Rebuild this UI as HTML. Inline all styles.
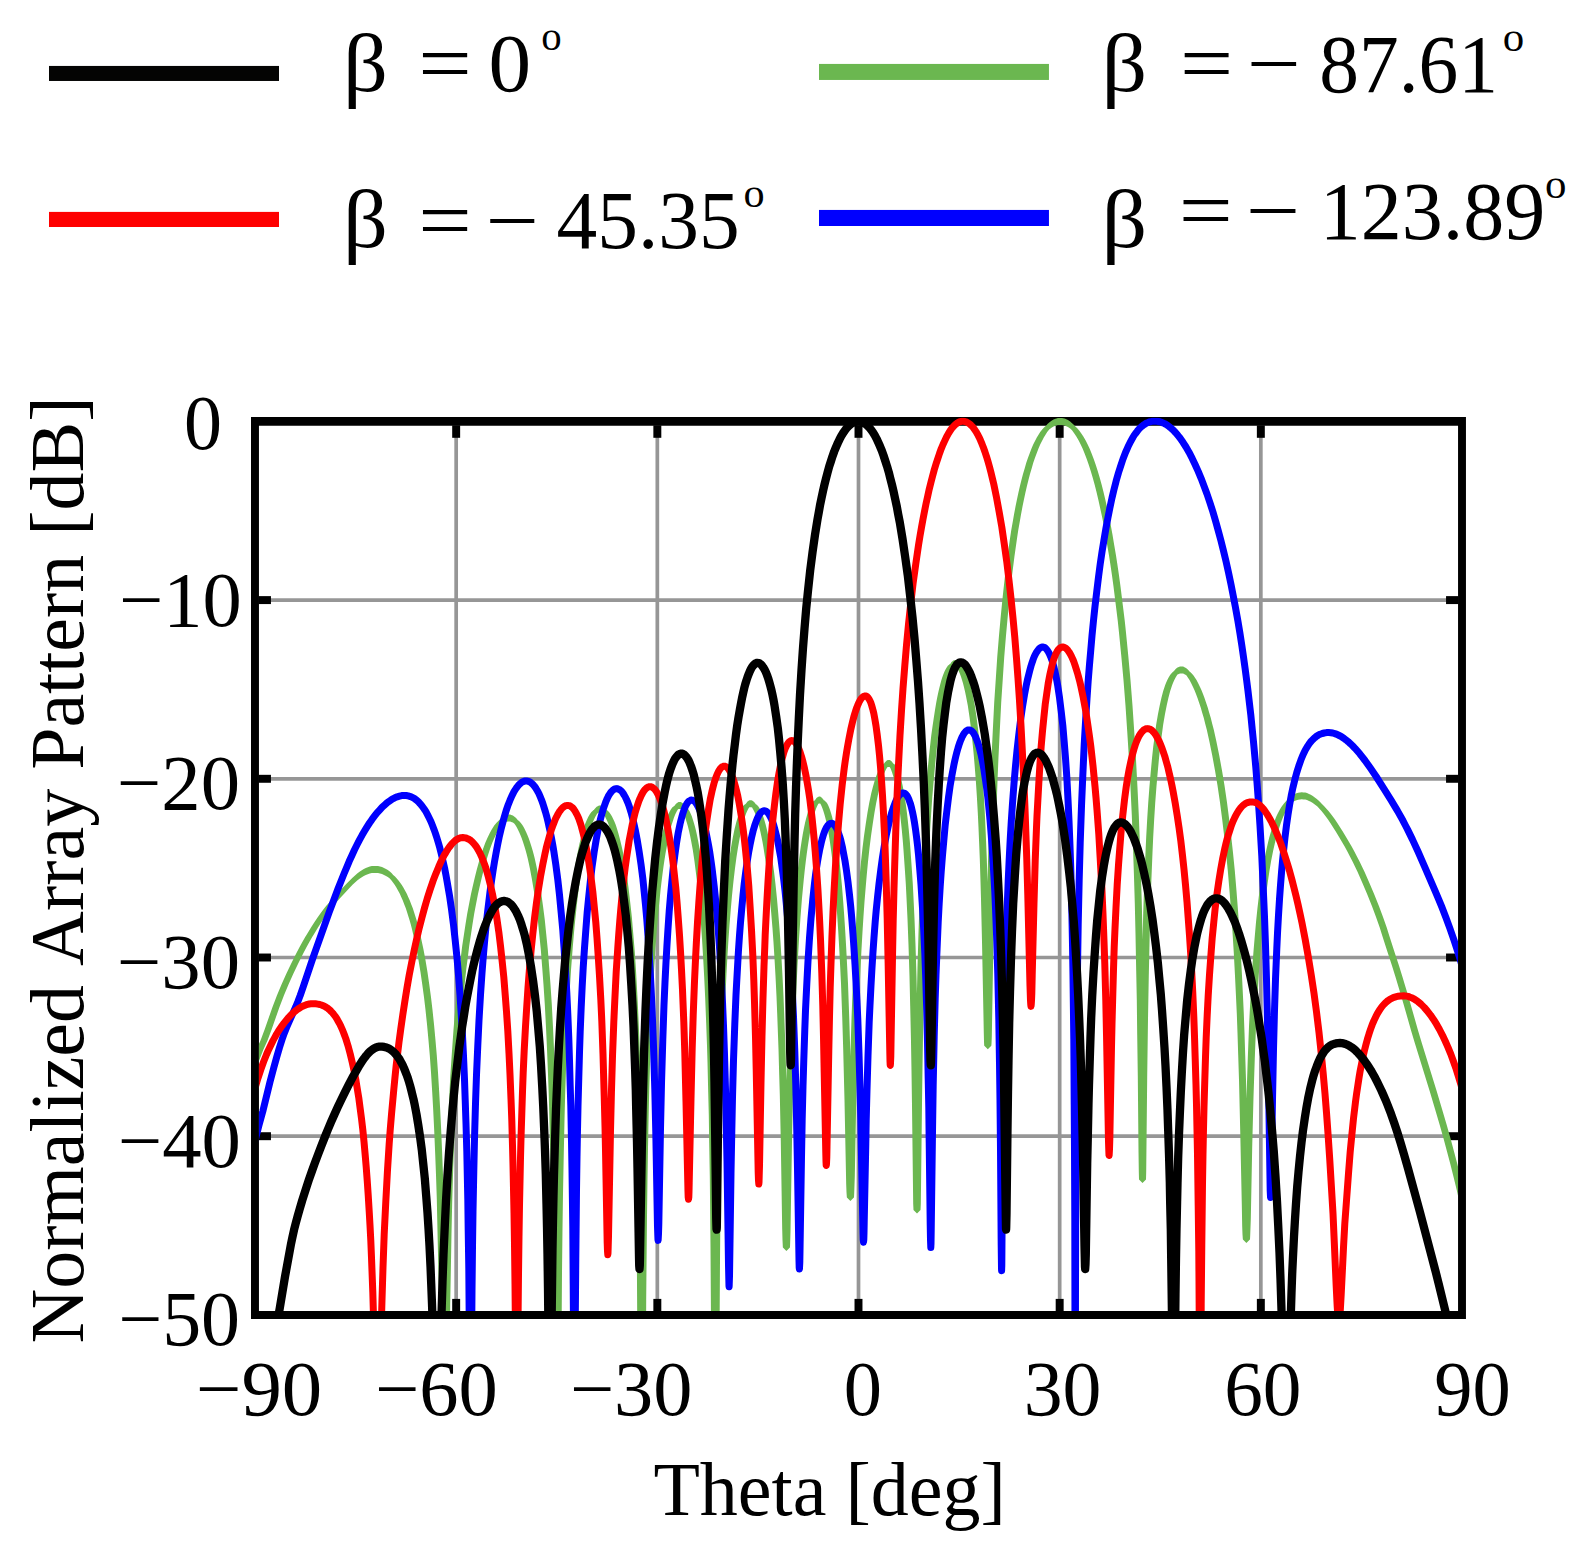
<!DOCTYPE html>
<html lang="en"><head><meta charset="utf-8"><title>Normalized Array Pattern</title>
<style>html,body{margin:0;padding:0;background:#fff}svg{display:block}text{font-family:"Liberation Serif", "DejaVu Serif", serif;fill:#000;font-kerning:none;white-space:pre}</style>
</head><body>
<svg width="1593" height="1557" viewBox="0 0 1593 1557">
<rect width="1593" height="1557" fill="#fff"/>
<defs><clipPath id="cp"><rect x="258.9" y="417.6" width="1199.1" height="893.3"/></clipPath></defs>
<g id="legend-lines">
<rect x="49.00" y="65.94" width="230.00" height="15.03" fill="#040403"/>
<rect x="49.00" y="211.90" width="230.00" height="15.10" fill="#fe0000"/>
<rect x="819.00" y="63.93" width="229.95" height="16.02" fill="#6bb750"/>
<rect x="819.00" y="209.94" width="229.95" height="16.06" fill="#0000fe"/>
</g>
<g id="legend-text">
<text x="343.11" y="90.60" font-size="82.00px" textLength="44.95" lengthAdjust="spacingAndGlyphs">β</text>
<text x="418.27" y="91.30" font-size="82.00px" textLength="53.57" lengthAdjust="spacingAndGlyphs">=</text>
<text x="488.46" y="90.50" font-size="82.00px" textLength="42.59" lengthAdjust="spacingAndGlyphs">0</text>
<text x="541.25" y="49.90" font-size="39.00px" textLength="20.41" lengthAdjust="spacingAndGlyphs">o</text>
<text x="343.11" y="247.40" font-size="82.00px" textLength="44.95" lengthAdjust="spacingAndGlyphs">β</text>
<text x="418.27" y="248.00" font-size="82.00px" textLength="53.57" lengthAdjust="spacingAndGlyphs">=</text>
<text x="485.58" y="247.50" font-size="82.00px" textLength="53.45" lengthAdjust="spacingAndGlyphs">−</text>
<text x="556.51" y="248.10" font-size="82.00px" textLength="183.27" lengthAdjust="spacingAndGlyphs">45.35</text>
<text x="743.59" y="206.70" font-size="39.00px" textLength="21.12" lengthAdjust="spacingAndGlyphs">o</text>
<text x="1101.51" y="91.00" font-size="82.00px" textLength="45.71" lengthAdjust="spacingAndGlyphs">β</text>
<text x="1180.10" y="91.10" font-size="82.00px" textLength="53.21" lengthAdjust="spacingAndGlyphs">=</text>
<text x="1246.83" y="91.10" font-size="82.00px" textLength="54.05" lengthAdjust="spacingAndGlyphs">−</text>
<text x="1319.27" y="92.20" font-size="82.00px" textLength="178.80" lengthAdjust="spacingAndGlyphs">87.61</text>
<text x="1502.66" y="51.00" font-size="39.00px" textLength="21.47" lengthAdjust="spacingAndGlyphs">o</text>
<text x="1101.51" y="247.30" font-size="82.00px" textLength="45.71" lengthAdjust="spacingAndGlyphs">β</text>
<text x="1178.73" y="238.20" font-size="82.00px" textLength="54.05" lengthAdjust="spacingAndGlyphs">=</text>
<text x="1245.89" y="238.30" font-size="82.00px" textLength="54.42" lengthAdjust="spacingAndGlyphs">−</text>
<text x="1319.79" y="238.80" font-size="82.00px" textLength="225.57" lengthAdjust="spacingAndGlyphs">123.89</text>
<text x="1545.06" y="198.20" font-size="39.00px" textLength="21.47" lengthAdjust="spacingAndGlyphs">o</text>
</g>
<g id="grid" stroke="#969696" stroke-width="3.7" fill="none">
<line x1="456.17" y1="425.80" x2="456.17" y2="1310.90"/>
<line x1="657.33" y1="425.80" x2="657.33" y2="1310.90"/>
<line x1="858.50" y1="425.80" x2="858.50" y2="1310.90"/>
<line x1="1059.67" y1="425.80" x2="1059.67" y2="1310.90"/>
<line x1="1260.83" y1="425.80" x2="1260.83" y2="1310.90"/>
<line x1="258.95" y1="600.10" x2="1458.05" y2="600.10"/>
<line x1="258.95" y1="778.80" x2="1458.05" y2="778.80"/>
<line x1="258.95" y1="957.50" x2="1458.05" y2="957.50"/>
<line x1="258.95" y1="1136.20" x2="1458.05" y2="1136.20"/>
</g>
<g id="frame" fill="#000" stroke="none">
<path fill-rule="evenodd" d="M251.00 417.05H1465.95V1318.90H251.00ZM258.95 425.80H1458.05V1310.90H258.95Z"/>
<rect x="452.19" y="425.30" width="7.95" height="12.50"/>
<rect x="452.19" y="1298.90" width="7.95" height="12.50"/>
<rect x="653.36" y="425.30" width="7.95" height="12.50"/>
<rect x="653.36" y="1298.90" width="7.95" height="12.50"/>
<rect x="854.52" y="425.30" width="7.95" height="12.50"/>
<rect x="854.52" y="1298.90" width="7.95" height="12.50"/>
<rect x="1055.69" y="425.30" width="7.95" height="12.50"/>
<rect x="1055.69" y="1298.90" width="7.95" height="12.50"/>
<rect x="1256.86" y="425.30" width="7.95" height="12.50"/>
<rect x="1256.86" y="1298.90" width="7.95" height="12.50"/>
<rect x="258.45" y="596.12" width="12.50" height="7.95"/>
<rect x="1446.05" y="596.12" width="12.50" height="7.95"/>
<rect x="258.45" y="774.82" width="12.50" height="7.95"/>
<rect x="1446.05" y="774.82" width="12.50" height="7.95"/>
<rect x="258.45" y="953.53" width="12.50" height="7.95"/>
<rect x="1446.05" y="953.53" width="12.50" height="7.95"/>
<rect x="258.45" y="1132.23" width="12.50" height="7.95"/>
<rect x="1446.05" y="1132.23" width="12.50" height="7.95"/>
</g>
<g id="curves" clip-path="url(#cp)" fill="none" stroke-linejoin="round" stroke-linecap="butt">
<path id="c-green" fill="#6bb750" stroke="none" d="M250.0 1072.5L253.5 1062.7L257.2 1052.8L259.8 1046.6L264.0 1036.9L265.8 1032.4L268.2 1025.6L276.0 1003.4L278.2 997.4L280.5 991.7L285.0 981.0L289.8 970.4L294.8 959.9L299.8 950.0L302.8 944.3L305.8 938.8L308.8 933.5L311.5 928.9L314.5 924.0L317.8 919.0L320.8 914.5L323.8 910.2L326.2 906.8L328.0 904.6L330.0 902.1L332.2 899.5L336.0 895.3L345.5 885.0L350.0 880.3L352.5 877.8L355.0 875.5L357.2 873.5L359.5 871.8L361.8 870.2L363.8 869.0L365.8 868.0L367.8 867.2L369.8 866.6L371.8 866.1L373.8 865.9L375.8 865.9L378.0 866.1L380.0 866.5L382.0 867.1L384.0 867.9L386.0 868.9L387.8 870.0L389.8 871.5L391.5 873.1L393.2 874.9L395.0 876.9L396.8 879.2L398.2 881.4L400.0 884.2L401.5 886.9L403.2 890.3L404.8 893.5L406.2 896.9L407.8 900.7L409.2 904.8L410.5 908.5L413.0 916.6L414.2 921.0L415.5 925.8L417.8 935.3L420.0 945.9L422.0 956.7L424.0 968.7L425.8 980.6L427.5 993.8L429.0 1006.6L430.5 1020.8L432.0 1036.9L433.2 1052.1L434.5 1069.1L435.8 1088.6L436.8 1106.5L437.8 1126.9L438.8 1150.7L439.5 1171.4L440.2 1195.6L440.8 1214.2L441.8 1260.1L442.2 1289.5L442.8 1326.0L443.2 1373.8L443.8 1442.6L444.0 1492.3L444.5 1649.4L444.6 1665.6L445.2 1480.5L445.8 1396.8L446.2 1341.8L446.8 1301.0L447.2 1268.5L448.0 1229.7L448.8 1198.5L449.8 1164.7L451.0 1130.5L452.2 1102.4L453.8 1074.2L455.2 1050.2L457.0 1026.2L459.0 1002.6L460.2 989.5L461.5 977.5L462.8 966.3L464.2 954.0L465.8 942.6L467.2 932.1L469.0 920.7L470.8 910.3L472.5 900.7L474.5 890.6L476.2 882.5L478.2 873.9L480.2 866.0L482.2 858.8L484.2 852.3L486.5 845.6L488.8 839.6L491.0 834.2L493.2 829.5L495.5 825.5L496.5 823.9L497.8 822.1L499.0 820.5L500.0 819.3L501.2 818.0L502.2 817.1L503.5 816.2L504.5 815.6L505.8 815.0L506.8 814.7L508.0 814.5L509.0 814.4L510.2 814.6L511.2 814.9L512.2 815.3L513.2 815.8L514.5 816.7L515.5 817.6L516.5 818.6L517.5 819.8L518.5 821.1L519.5 822.6L520.5 824.3L521.5 826.2L522.8 828.8L524.0 831.7L525.2 834.9L526.5 838.4L527.8 842.3L529.0 846.6L530.2 851.3L531.2 855.3L532.5 860.8L533.5 865.6L535.5 876.2L537.5 888.3L539.5 902.4L541.2 916.5L542.8 930.3L544.2 946.0L545.8 964.0L547.0 981.2L548.2 1000.9L549.5 1023.9L550.5 1045.4L551.5 1070.8L552.2 1093.1L553.0 1119.4L553.5 1139.9L554.2 1176.9L554.8 1207.8L555.5 1270.2L556.0 1332.4L556.2 1376.2L556.5 1436.7L557.0 1665.6L557.2 1532.7L557.5 1436.4L557.8 1375.6L558.2 1297.3L558.5 1269.1L559.0 1224.4L559.5 1189.7L560.2 1148.8L561.0 1116.4L561.8 1089.5L562.8 1059.7L563.8 1034.8L564.8 1013.3L566.0 990.2L567.5 966.5L569.2 943.2L570.2 931.4L571.2 920.6L573.2 901.5L574.2 893.0L575.5 883.3L576.5 876.1L577.8 867.8L579.0 860.2L580.2 853.3L581.5 846.9L583.0 840.1L584.2 834.9L585.8 829.4L587.2 824.5L588.8 820.2L590.2 816.5L591.8 813.4L593.2 810.8L594.8 808.8L595.5 807.9L596.2 807.2L597.0 806.6L597.8 806.2L598.5 805.8L599.2 805.6L600.0 805.5L601.0 805.6L602.0 805.8L602.8 806.2L603.5 806.7L604.2 807.2L605.0 808.0L605.8 808.8L607.2 810.9L608.5 813.0L609.8 815.4L611.0 818.3L612.2 821.5L613.5 825.2L614.8 829.3L616.0 833.9L617.0 837.9L618.2 843.4L619.2 848.1L621.2 858.9L623.2 871.4L625.0 884.1L626.8 898.7L628.2 913.0L629.8 929.5L631.2 948.6L632.5 967.0L633.8 988.4L634.8 1008.4L635.8 1031.6L636.5 1052.0L637.2 1075.6L638.0 1103.7L638.5 1125.9L639.0 1151.9L639.5 1183.4L640.2 1247.5L640.8 1312.4L641.0 1359.0L641.2 1425.4L641.7 1665.6L642.0 1483.8L642.2 1395.1L642.8 1296.3L643.0 1263.4L643.5 1213.0L644.0 1175.0L644.5 1144.4L645.0 1118.9L645.8 1087.2L646.5 1060.8L647.2 1038.4L648.2 1012.9L649.2 991.2L650.5 967.9L652.0 944.3L653.5 924.2L655.2 904.2L657.0 887.1L658.0 878.4L659.0 870.4L660.0 863.1L661.0 856.3L662.0 850.1L663.2 842.9L664.2 837.7L665.5 831.8L666.8 826.5L668.0 821.8L669.2 817.7L670.5 814.0L671.8 810.9L673.2 807.8L674.5 805.7L675.8 804.1L677.0 802.9L677.8 802.5L678.5 802.1L679.2 802.0L680.0 801.9L680.8 802.1L681.2 802.3L682.0 802.7L682.8 803.3L684.0 804.6L685.2 806.4L686.2 808.3L687.2 810.4L688.2 812.8L689.5 816.4L690.5 819.7L691.5 823.3L692.5 827.3L693.5 831.8L694.5 836.7L696.2 846.5L698.0 858.0L699.8 871.4L701.2 884.7L702.8 900.1L704.2 918.0L705.5 935.2L706.8 955.2L707.8 973.7L708.8 995.0L709.8 1020.1L710.5 1042.2L711.0 1059.0L711.8 1088.4L712.2 1111.8L712.8 1139.4L713.2 1173.1L714.0 1243.5L714.5 1318.2L714.8 1375.4L715.0 1465.2L715.3 1665.6L715.5 1521.1L715.8 1405.6L716.0 1338.6L716.5 1255.7L717.0 1201.9L717.8 1145.4L718.2 1116.7L718.8 1092.5L719.8 1053.3L720.5 1029.5L721.2 1008.9L722.0 990.9L723.0 970.0L724.0 951.8L725.0 935.8L726.0 921.6L727.2 905.8L728.5 891.9L730.0 877.4L731.5 864.7L733.0 853.6L734.5 843.9L736.2 834.1L738.0 825.8L739.8 818.9L740.8 815.4L741.8 812.4L742.8 809.7L743.8 807.4L744.8 805.4L745.8 803.7L746.8 802.4L747.2 801.8L748.0 801.2L749.0 800.5L749.5 800.3L750.2 800.2L750.8 800.2L751.5 800.3L752.5 800.7L753.5 801.5L754.8 802.8L755.8 804.3L756.8 806.0L758.0 808.6L759.0 811.1L760.0 813.9L761.0 817.1L762.0 820.6L763.0 824.5L764.0 828.8L765.0 833.5L766.0 838.6L767.0 844.2L768.8 855.2L770.5 868.1L772.0 880.8L773.5 895.4L774.8 909.2L776.0 924.9L777.0 939.0L778.0 954.9L779.0 972.7L780.0 992.9L780.8 1010.3L782.0 1045.6L782.8 1071.3L783.2 1091.0L784.2 1138.2L785.8 1225.5L786.0 1236.5L786.2 1242.9L786.4 1244.0L786.5 1243.5L786.8 1238.1L787.0 1227.9L788.8 1126.0L789.5 1090.4L790.2 1060.6L791.0 1035.2L792.0 1006.5L793.0 982.8L794.0 962.3L795.5 935.8L797.0 913.5L798.5 894.5L800.2 875.7L801.2 866.3L802.2 857.8L803.2 850.0L804.2 842.9L805.2 836.4L806.2 830.6L807.2 825.3L808.5 819.4L809.2 816.2L810.2 812.4L811.0 809.8L812.0 806.8L812.8 804.8L813.8 802.5L814.8 800.5L815.8 799.0L816.5 798.1L817.5 797.2L818.0 796.9L818.5 796.7L819.0 796.6L819.5 796.6L820.0 796.6L820.5 796.8L821.0 797.0L821.5 797.4L822.5 798.4L823.2 799.3L824.2 801.0L825.0 802.5L826.0 805.0L826.8 807.0L827.8 810.2L828.5 813.0L829.5 817.0L830.2 820.4L831.2 825.4L832.0 829.6L833.5 838.9L835.0 849.9L836.2 860.4L837.5 872.3L838.5 883.0L839.8 898.2L840.8 911.9L841.8 927.2L842.8 944.4L843.8 963.7L844.5 979.9L845.8 1013.1L846.8 1045.7L848.0 1096.7L849.8 1180.9L850.0 1188.8L850.2 1193.2L850.4 1194.0L850.5 1193.7L850.8 1190.0L851.2 1172.8L852.8 1099.3L854.0 1048.1L855.0 1015.2L856.2 981.7L857.0 965.3L858.0 945.7L859.0 928.2L860.0 912.5L861.0 898.3L862.2 882.5L863.2 871.1L864.5 858.3L866.0 844.6L867.5 832.4L869.2 820.0L871.0 809.1L872.8 799.5L874.8 790.1L876.5 783.0L877.5 779.4L878.5 776.1L879.5 773.2L880.5 770.5L881.5 768.1L882.8 765.6L883.8 763.9L884.8 762.5L885.8 761.4L886.8 760.6L887.8 760.1L888.2 760.0L888.8 760.0L889.2 760.0L889.8 760.1L890.5 760.5L891.5 761.3L892.5 762.5L893.5 764.1L894.2 765.6L895.5 768.7L896.8 772.5L898.0 777.2L899.0 781.6L900.2 788.0L901.2 794.0L902.2 800.7L903.2 808.3L904.2 816.9L905.2 826.6L906.2 837.6L907.0 846.8L908.5 868.2L909.2 880.6L910.0 894.5L911.0 915.6L912.0 941.4L913.0 973.1L913.8 1002.4L914.5 1038.5L915.0 1067.7L915.5 1102.5L916.5 1185.1L916.8 1200.6L917.0 1206.5L917.2 1200.5L917.5 1184.8L918.5 1099.7L919.0 1063.6L919.5 1032.9L920.2 994.8L921.0 963.5L922.0 929.1L923.0 900.6L924.0 876.6L925.5 846.0L927.0 820.3L928.8 794.9L930.5 773.4L931.5 762.5L932.5 752.4L933.5 743.2L934.8 732.6L936.0 723.0L937.2 714.3L938.5 706.4L939.8 699.2L940.8 694.0L941.8 689.3L942.8 684.9L943.8 680.9L944.8 677.3L945.8 674.1L946.8 671.2L948.0 668.1L949.0 666.0L950.0 664.2L951.0 662.7L951.5 662.1L952.2 661.4L953.2 660.6L954.2 660.2L955.2 660.1L955.8 660.2L956.5 660.4L957.0 660.7L957.8 661.2L958.8 662.1L960.0 663.7L961.0 665.3L962.2 667.7L963.2 670.0L964.5 673.3L965.5 676.4L966.5 679.8L967.5 683.7L968.5 687.9L969.5 692.7L971.2 702.1L973.0 713.5L974.5 724.9L975.8 736.0L977.0 748.7L978.0 760.2L979.2 776.8L980.2 792.0L981.2 809.4L982.0 824.3L983.2 855.4L984.0 878.2L984.5 895.8L985.5 937.9L987.2 1029.7L987.5 1038.2L987.8 1042.1L987.8 1042.2L988.0 1040.3L988.2 1033.2L988.5 1021.8L990.2 917.0L990.8 891.7L991.5 858.6L992.2 830.2L993.2 798.0L994.0 777.4L995.0 753.4L996.2 727.0L997.8 699.3L999.2 675.2L1000.8 653.9L1002.5 631.9L1004.2 612.2L1006.2 592.2L1008.5 572.2L1011.0 552.5L1013.5 535.1L1014.8 527.1L1016.2 518.1L1017.5 511.1L1019.0 503.1L1020.5 495.7L1022.0 488.8L1023.5 482.3L1025.0 476.2L1026.5 470.5L1028.2 464.4L1029.8 459.5L1031.5 454.2L1033.2 449.4L1035.0 445.0L1036.8 441.0L1038.5 437.4L1040.2 434.1L1042.0 431.2L1043.8 428.6L1045.8 426.0L1047.5 424.0L1049.5 422.2L1051.5 420.7L1053.5 419.5L1055.5 418.7L1056.5 418.4L1057.8 418.1L1058.8 418.0L1060.0 417.9L1062.0 418.0L1063.2 418.2L1064.5 418.6L1065.8 419.0L1066.8 419.4L1068.0 420.1L1069.0 420.7L1070.2 421.6L1071.2 422.4L1073.5 424.6L1075.8 427.1L1078.0 430.2L1080.0 433.3L1082.2 437.2L1084.2 441.2L1086.2 445.6L1088.2 450.4L1090.2 455.7L1092.2 461.4L1094.2 467.7L1096.2 474.4L1098.2 481.7L1100.0 488.5L1102.0 496.9L1103.8 504.7L1105.5 513.1L1107.2 521.9L1109.0 531.3L1110.8 541.4L1112.5 552.1L1114.0 561.8L1115.5 572.1L1117.0 583.0L1119.8 604.7L1121.2 617.7L1122.5 629.2L1124.8 651.6L1127.0 676.8L1129.0 702.2L1130.8 727.4L1132.5 756.1L1134.0 784.5L1135.2 811.8L1136.5 843.5L1137.5 873.6L1138.2 900.1L1139.0 930.7L1139.8 967.3L1140.2 996.4L1140.8 1031.0L1141.2 1072.7L1142.0 1147.5L1142.2 1167.9L1142.5 1176.1L1142.8 1168.0L1143.8 1073.8L1144.5 1015.5L1145.2 971.8L1146.2 927.7L1146.8 909.7L1147.5 886.3L1148.2 866.2L1149.0 848.9L1149.8 833.5L1150.8 815.5L1151.8 799.8L1153.0 782.6L1154.2 767.8L1155.5 754.8L1156.8 743.4L1158.2 731.4L1159.8 720.9L1161.5 710.5L1163.2 701.6L1165.0 694.0L1166.8 687.6L1167.8 684.5L1168.8 681.6L1169.8 679.0L1170.8 676.7L1171.8 674.7L1173.0 672.5L1174.0 671.1L1175.2 669.5L1176.2 668.5L1177.5 667.6L1178.8 666.9L1180.0 666.5L1181.2 666.4L1182.5 666.5L1183.2 666.6L1184.0 666.9L1185.5 667.7L1187.0 668.8L1188.5 670.3L1190.0 672.1L1191.5 674.2L1193.0 676.6L1194.8 679.8L1196.5 683.4L1198.0 686.8L1199.5 690.5L1201.0 694.5L1202.8 699.5L1204.2 704.2L1205.8 709.2L1207.2 714.6L1208.8 720.3L1210.2 726.3L1213.0 738.4L1215.8 751.8L1218.5 766.9L1221.0 782.1L1223.5 799.1L1225.8 816.1L1227.8 832.9L1229.5 849.2L1231.2 867.3L1233.0 887.5L1234.5 906.9L1236.0 928.8L1237.2 949.4L1238.5 972.6L1239.5 993.3L1240.2 1010.2L1241.0 1029.6L1241.8 1051.6L1242.5 1076.5L1243.8 1126.6L1245.2 1200.9L1245.8 1223.1L1246.0 1230.9L1246.2 1235.2L1246.4 1236.0L1246.5 1235.7L1246.8 1232.1L1247.2 1215.4L1248.8 1143.8L1250.0 1093.6L1251.2 1054.4L1252.5 1023.1L1253.5 1003.0L1254.8 980.8L1255.8 965.1L1257.0 947.7L1258.2 932.4L1259.5 918.7L1261.0 904.3L1262.5 891.6L1264.2 878.5L1266.0 867.1L1267.8 857.0L1269.8 847.0L1271.8 838.2L1272.8 834.3L1274.0 829.7L1275.0 826.4L1276.2 822.5L1277.2 819.6L1278.5 816.3L1279.8 813.3L1281.0 810.5L1282.2 808.0L1283.5 805.7L1284.8 803.7L1286.2 801.5L1287.5 799.9L1289.0 798.2L1290.5 796.8L1292.0 795.6L1293.5 794.6L1295.0 793.8L1296.5 793.2L1298.2 792.7L1300.0 792.4L1301.8 792.3L1303.5 792.4L1305.2 792.6L1307.0 793.1L1309.0 793.9L1310.8 794.8L1312.8 796.0L1314.8 797.4L1316.8 799.0L1318.8 800.8L1320.8 802.8L1322.8 804.9L1325.0 807.5L1327.0 810.0L1329.2 813.0L1331.5 816.1L1334.0 819.8L1336.8 824.0L1339.8 828.7L1342.8 833.7L1345.5 838.4L1348.2 843.3L1351.0 848.3L1353.8 853.5L1356.2 858.4L1358.8 863.5L1361.0 868.3L1365.8 878.9L1370.8 890.8L1375.5 902.8L1379.5 913.5L1383.2 924.3L1385.8 932.0L1391.0 948.6L1395.5 962.3L1398.8 972.6L1401.8 982.4L1405.0 993.4L1414.8 1027.4L1418.2 1039.4L1433.2 1088.1L1438.5 1105.6L1443.2 1121.8L1447.2 1135.9L1450.8 1148.8L1454.0 1161.2L1457.0 1173.2L1460.2 1186.8L1463.5 1201.1L1466.8 1216.0L1470.0 1231.5L1470.0 1238.5L1466.8 1223.0L1463.5 1208.1L1460.2 1193.8L1457.0 1180.2L1454.0 1168.2L1450.8 1155.8L1447.2 1142.9L1443.2 1128.8L1438.5 1112.6L1433.2 1095.1L1418.2 1046.4L1414.8 1034.4L1405.0 1000.4L1401.8 989.4L1398.8 979.6L1395.5 969.3L1391.0 955.6L1385.8 939.0L1383.2 931.3L1379.5 920.5L1375.5 909.8L1370.8 897.8L1365.8 885.9L1361.0 875.3L1358.8 870.5L1356.2 865.4L1353.8 860.5L1351.0 855.3L1348.2 850.3L1345.5 845.4L1342.8 840.7L1339.8 835.7L1336.8 831.0L1334.0 826.8L1331.5 823.1L1329.2 820.0L1327.0 817.0L1325.0 814.5L1322.8 811.9L1320.8 809.8L1318.8 807.8L1316.8 806.0L1314.8 804.4L1312.8 803.0L1310.8 801.8L1309.0 800.9L1307.0 800.1L1305.2 799.6L1303.5 799.4L1301.8 799.3L1300.0 799.4L1298.2 799.7L1296.5 800.2L1295.0 800.8L1293.5 801.6L1292.0 802.6L1290.5 803.8L1289.0 805.2L1287.5 806.9L1286.2 808.5L1284.8 810.7L1283.5 812.7L1282.2 815.0L1281.0 817.5L1279.8 820.3L1278.5 823.3L1277.2 826.6L1276.2 829.5L1275.0 833.4L1274.0 836.7L1272.8 841.3L1271.8 845.2L1269.8 854.0L1267.8 864.0L1266.0 874.1L1264.2 885.5L1262.5 898.6L1261.0 911.3L1259.5 925.7L1258.2 939.4L1257.0 954.7L1255.8 972.1L1254.8 987.8L1253.5 1010.0L1252.5 1030.1L1251.2 1061.4L1250.0 1100.6L1248.8 1150.8L1247.2 1222.4L1246.8 1239.1L1246.5 1242.7L1246.4 1243.0L1246.2 1242.2L1246.0 1237.9L1245.8 1230.1L1245.2 1207.9L1243.8 1133.6L1242.5 1083.5L1241.8 1058.6L1241.0 1036.6L1240.2 1017.2L1239.5 1000.3L1238.5 979.6L1237.2 956.4L1236.0 935.8L1234.5 913.9L1233.0 894.5L1231.2 874.3L1229.5 856.2L1227.8 839.9L1225.8 823.1L1223.5 806.1L1221.0 789.1L1218.5 773.9L1215.8 758.8L1213.0 745.4L1210.2 733.3L1208.8 727.3L1207.2 721.6L1205.8 716.2L1204.2 711.2L1202.8 706.5L1201.0 701.5L1199.5 697.5L1198.0 693.8L1196.5 690.4L1194.8 686.8L1193.0 683.6L1191.5 681.2L1190.0 679.1L1188.5 677.3L1187.0 675.8L1185.5 674.7L1184.0 673.9L1183.2 673.6L1182.5 673.5L1181.2 673.4L1180.0 673.5L1178.8 673.9L1177.5 674.6L1176.2 675.5L1175.2 676.5L1174.0 678.1L1173.0 679.5L1171.8 681.7L1170.8 683.7L1169.8 686.0L1168.8 688.6L1167.8 691.5L1166.8 694.6L1165.0 701.0L1163.2 708.6L1161.5 717.5L1159.8 727.9L1158.2 738.4L1156.8 750.4L1155.5 761.8L1154.2 774.8L1153.0 789.6L1151.8 806.8L1150.8 822.5L1149.8 840.5L1149.0 855.9L1148.2 873.2L1147.5 893.3L1146.8 916.7L1146.2 934.7L1145.2 978.8L1144.5 1022.5L1143.8 1080.8L1142.8 1175.0L1142.5 1183.1L1142.2 1174.9L1142.0 1154.5L1141.2 1079.7L1140.8 1038.0L1140.2 1003.4L1139.8 974.3L1139.0 937.7L1138.2 907.1L1137.5 880.6L1136.5 850.5L1135.2 818.8L1134.0 791.5L1132.5 763.1L1130.8 734.4L1129.0 709.2L1127.0 683.8L1124.8 658.6L1122.5 636.2L1121.2 624.7L1119.8 611.7L1117.0 590.0L1115.5 579.1L1114.0 568.8L1112.5 559.1L1110.8 548.4L1109.0 538.3L1107.2 528.9L1105.5 520.1L1103.8 511.7L1102.0 503.9L1100.0 495.5L1098.2 488.7L1096.2 481.4L1094.2 474.7L1092.2 468.4L1090.2 462.7L1088.2 457.4L1086.2 452.6L1084.2 448.2L1082.2 444.2L1080.0 440.3L1078.0 437.2L1075.8 434.1L1073.5 431.6L1071.2 429.4L1070.2 428.6L1069.0 427.7L1068.0 427.1L1066.8 426.4L1065.8 426.0L1064.5 425.6L1063.2 425.2L1062.0 425.0L1060.0 424.9L1058.8 425.0L1057.8 425.1L1056.5 425.4L1055.5 425.7L1053.5 426.5L1051.5 427.7L1049.5 429.2L1047.5 431.0L1045.8 433.0L1043.8 435.6L1042.0 438.2L1040.2 441.1L1038.5 444.4L1036.8 448.0L1035.0 452.0L1033.2 456.4L1031.5 461.2L1029.8 466.5L1028.2 471.4L1026.5 477.5L1025.0 483.2L1023.5 489.3L1022.0 495.8L1020.5 502.7L1019.0 510.1L1017.5 518.1L1016.2 525.1L1014.8 534.1L1013.5 542.1L1011.0 559.5L1008.5 579.2L1006.2 599.2L1004.2 619.2L1002.5 638.9L1000.8 660.9L999.2 682.2L997.8 706.3L996.2 734.0L995.0 760.4L994.0 784.4L993.2 805.0L992.2 837.2L991.5 865.6L990.8 898.7L990.2 924.0L988.5 1028.8L988.2 1040.2L988.0 1047.3L987.8 1049.2L987.8 1049.1L987.5 1045.2L987.2 1036.7L985.5 944.9L984.5 902.8L984.0 885.2L983.2 862.4L982.0 831.3L981.2 816.4L980.2 799.0L979.2 783.8L978.0 767.2L977.0 755.7L975.8 743.0L974.5 731.9L973.0 720.5L971.2 709.1L969.5 699.7L968.5 694.9L967.5 690.7L966.5 686.8L965.5 683.4L964.5 680.3L963.2 677.0L962.2 674.7L961.0 672.3L960.0 670.7L958.8 669.1L957.8 668.2L957.0 667.7L956.5 667.4L955.8 667.2L955.2 667.1L954.2 667.2L953.2 667.6L952.2 668.4L951.5 669.1L951.0 669.7L950.0 671.2L949.0 673.0L948.0 675.1L946.8 678.2L945.8 681.1L944.8 684.3L943.8 687.9L942.8 691.9L941.8 696.3L940.8 701.0L939.8 706.2L938.5 713.4L937.2 721.3L936.0 730.0L934.8 739.6L933.5 750.2L932.5 759.4L931.5 769.5L930.5 780.4L928.8 801.9L927.0 827.3L925.5 853.0L924.0 883.6L923.0 907.6L922.0 936.1L921.0 970.5L920.2 1001.8L919.5 1039.9L919.0 1070.6L918.5 1106.7L917.5 1191.8L917.2 1207.5L917.0 1213.5L916.8 1207.6L916.5 1192.1L915.5 1109.5L915.0 1074.7L914.5 1045.5L913.8 1009.4L913.0 980.1L912.0 948.4L911.0 922.6L910.0 901.5L909.2 887.6L908.5 875.2L907.0 853.8L906.2 844.6L905.2 833.6L904.2 823.9L903.2 815.3L902.2 807.7L901.2 801.0L900.2 795.0L899.0 788.6L898.0 784.2L896.8 779.5L895.5 775.7L894.2 772.6L893.5 771.1L892.5 769.5L891.5 768.3L890.5 767.5L889.8 767.1L889.2 767.0L888.8 767.0L888.2 767.0L887.8 767.1L886.8 767.6L885.8 768.4L884.8 769.5L883.8 770.9L882.8 772.6L881.5 775.1L880.5 777.5L879.5 780.2L878.5 783.1L877.5 786.4L876.5 790.0L874.8 797.1L872.8 806.5L871.0 816.1L869.2 827.0L867.5 839.4L866.0 851.6L864.5 865.3L863.2 878.1L862.2 889.5L861.0 905.3L860.0 919.5L859.0 935.2L858.0 952.7L857.0 972.3L856.2 988.7L855.0 1022.2L854.0 1055.1L852.8 1106.3L851.2 1179.8L850.8 1197.0L850.5 1200.7L850.4 1201.0L850.2 1200.2L850.0 1195.8L849.8 1187.9L848.0 1103.7L846.8 1052.7L845.8 1020.1L844.5 986.9L843.8 970.7L842.8 951.4L841.8 934.2L840.8 918.9L839.8 905.2L838.5 890.0L837.5 879.3L836.2 867.4L835.0 856.9L833.5 845.9L832.0 836.6L831.2 832.4L830.2 827.4L829.5 824.0L828.5 820.0L827.8 817.2L826.8 814.0L826.0 812.0L825.0 809.5L824.2 808.0L823.2 806.3L822.5 805.4L821.5 804.4L821.0 804.0L820.5 803.8L820.0 803.6L819.5 803.6L819.0 803.6L818.5 803.7L818.0 803.9L817.5 804.2L816.5 805.1L815.8 806.0L814.8 807.5L813.8 809.5L812.8 811.8L812.0 813.8L811.0 816.8L810.2 819.4L809.2 823.2L808.5 826.4L807.2 832.3L806.2 837.6L805.2 843.4L804.2 849.9L803.2 857.0L802.2 864.8L801.2 873.3L800.2 882.7L798.5 901.5L797.0 920.5L795.5 942.8L794.0 969.3L793.0 989.8L792.0 1013.5L791.0 1042.2L790.2 1067.6L789.5 1097.4L788.8 1133.0L787.0 1234.9L786.8 1245.1L786.5 1250.5L786.4 1251.0L786.2 1249.9L786.0 1243.5L785.8 1232.5L784.2 1145.2L783.2 1098.0L782.8 1078.3L782.0 1052.6L780.8 1017.3L780.0 999.9L779.0 979.7L778.0 961.9L777.0 946.0L776.0 931.9L774.8 916.2L773.5 902.4L772.0 887.8L770.5 875.1L768.8 862.2L767.0 851.2L766.0 845.6L765.0 840.5L764.0 835.8L763.0 831.5L762.0 827.6L761.0 824.1L760.0 820.9L759.0 818.1L758.0 815.6L756.8 813.0L755.8 811.3L754.8 809.8L753.5 808.5L752.5 807.7L751.5 807.3L750.8 807.2L750.2 807.2L749.5 807.3L749.0 807.5L748.0 808.2L747.2 808.8L746.8 809.4L745.8 810.7L744.8 812.4L743.8 814.4L742.8 816.7L741.8 819.4L740.8 822.4L739.8 825.9L738.0 832.8L736.2 841.1L734.5 850.9L733.0 860.6L731.5 871.7L730.0 884.4L728.5 898.9L727.2 912.8L726.0 928.6L725.0 942.8L724.0 958.8L723.0 977.0L722.0 997.9L721.2 1015.9L720.5 1036.5L719.8 1060.3L718.8 1099.5L718.2 1123.7L717.8 1152.4L717.0 1208.9L716.5 1262.7L716.0 1345.6L715.8 1412.6L715.5 1528.1L715.3 1672.6L715.0 1472.2L714.8 1382.4L714.5 1325.2L714.0 1250.5L713.2 1180.1L712.8 1146.4L712.2 1118.8L711.8 1095.4L711.0 1066.0L710.5 1049.2L709.8 1027.1L708.8 1002.0L707.8 980.7L706.8 962.2L705.5 942.2L704.2 925.0L702.8 907.1L701.2 891.7L699.8 878.4L698.0 865.0L696.2 853.5L694.5 843.7L693.5 838.8L692.5 834.3L691.5 830.3L690.5 826.7L689.5 823.4L688.2 819.8L687.2 817.4L686.2 815.3L685.2 813.4L684.0 811.6L682.8 810.3L682.0 809.7L681.2 809.3L680.8 809.1L680.0 808.9L679.2 809.0L678.5 809.1L677.8 809.5L677.0 809.9L675.8 811.1L674.5 812.7L673.2 814.8L671.8 817.9L670.5 821.0L669.2 824.7L668.0 828.8L666.8 833.5L665.5 838.8L664.2 844.7L663.2 849.9L662.0 857.1L661.0 863.3L660.0 870.1L659.0 877.4L658.0 885.4L657.0 894.1L655.2 911.2L653.5 931.2L652.0 951.3L650.5 974.9L649.2 998.2L648.2 1019.9L647.2 1045.4L646.5 1067.8L645.8 1094.2L645.0 1125.9L644.5 1151.4L644.0 1182.0L643.5 1220.0L643.0 1270.4L642.8 1303.3L642.2 1402.1L642.0 1490.8L641.7 1672.6L641.2 1432.4L641.0 1366.0L640.8 1319.4L640.2 1254.5L639.5 1190.4L639.0 1158.9L638.5 1132.9L638.0 1110.7L637.2 1082.6L636.5 1059.0L635.8 1038.6L634.8 1015.4L633.8 995.4L632.5 974.0L631.2 955.6L629.8 936.5L628.2 920.0L626.8 905.7L625.0 891.1L623.2 878.4L621.2 865.9L619.2 855.1L618.2 850.4L617.0 844.9L616.0 840.9L614.8 836.3L613.5 832.2L612.2 828.5L611.0 825.3L609.8 822.4L608.5 820.0L607.2 817.9L605.8 815.8L605.0 815.0L604.2 814.2L603.5 813.7L602.8 813.2L602.0 812.8L601.0 812.6L600.0 812.5L599.2 812.6L598.5 812.8L597.8 813.2L597.0 813.6L596.2 814.2L595.5 814.9L594.8 815.8L593.2 817.8L591.8 820.4L590.2 823.5L588.8 827.2L587.2 831.5L585.8 836.4L584.2 841.9L583.0 847.1L581.5 853.9L580.2 860.3L579.0 867.2L577.8 874.8L576.5 883.1L575.5 890.3L574.2 900.0L573.2 908.5L571.2 927.6L570.2 938.4L569.2 950.2L567.5 973.5L566.0 997.2L564.8 1020.3L563.8 1041.8L562.8 1066.7L561.8 1096.5L561.0 1123.4L560.2 1155.8L559.5 1196.7L559.0 1231.4L558.5 1276.1L558.2 1304.3L557.8 1382.6L557.5 1443.4L557.2 1539.7L557.0 1672.6L556.5 1443.7L556.2 1383.2L556.0 1339.4L555.5 1277.2L554.8 1214.8L554.2 1183.9L553.5 1146.9L553.0 1126.4L552.2 1100.1L551.5 1077.8L550.5 1052.4L549.5 1030.9L548.2 1007.9L547.0 988.2L545.8 971.0L544.2 953.0L542.8 937.3L541.2 923.5L539.5 909.4L537.5 895.3L535.5 883.2L533.5 872.6L532.5 867.8L531.2 862.3L530.2 858.3L529.0 853.6L527.8 849.3L526.5 845.4L525.2 841.9L524.0 838.7L522.8 835.8L521.5 833.2L520.5 831.3L519.5 829.6L518.5 828.1L517.5 826.8L516.5 825.6L515.5 824.6L514.5 823.7L513.2 822.8L512.2 822.3L511.2 821.9L510.2 821.6L509.0 821.4L508.0 821.5L506.8 821.7L505.8 822.0L504.5 822.6L503.5 823.2L502.2 824.1L501.2 825.0L500.0 826.3L499.0 827.5L497.8 829.1L496.5 830.9L495.5 832.5L493.2 836.5L491.0 841.2L488.8 846.6L486.5 852.6L484.2 859.3L482.2 865.8L480.2 873.0L478.2 880.9L476.2 889.5L474.5 897.6L472.5 907.7L470.8 917.3L469.0 927.7L467.2 939.1L465.8 949.6L464.2 961.0L462.8 973.3L461.5 984.5L460.2 996.5L459.0 1009.6L457.0 1033.2L455.2 1057.2L453.8 1081.2L452.2 1109.4L451.0 1137.5L449.8 1171.7L448.8 1205.5L448.0 1236.7L447.2 1275.5L446.8 1308.0L446.2 1348.8L445.8 1403.8L445.2 1487.5L444.6 1672.6L444.5 1656.4L444.0 1499.3L443.8 1449.6L443.2 1380.8L442.8 1333.0L442.2 1296.5L441.8 1267.1L440.8 1221.2L440.2 1202.6L439.5 1178.4L438.8 1157.7L437.8 1133.9L436.8 1113.5L435.8 1095.6L434.5 1076.1L433.2 1059.1L432.0 1043.9L430.5 1027.8L429.0 1013.6L427.5 1000.8L425.8 987.6L424.0 975.7L422.0 963.7L420.0 952.9L417.8 942.3L415.5 932.8L414.2 928.0L413.0 923.6L410.5 915.5L409.2 911.8L407.8 907.7L406.2 903.9L404.8 900.5L403.2 897.3L401.5 893.9L400.0 891.2L398.2 888.4L396.8 886.2L395.0 883.9L393.2 881.9L391.5 880.1L389.8 878.5L387.8 877.0L386.0 875.9L384.0 874.9L382.0 874.1L380.0 873.5L378.0 873.1L375.8 872.9L373.8 872.9L371.8 873.1L369.8 873.6L367.8 874.2L365.8 875.0L363.8 876.0L361.8 877.2L359.5 878.8L357.2 880.5L355.0 882.5L352.5 884.8L350.0 887.3L345.5 892.0L336.0 902.3L332.2 906.5L330.0 909.1L328.0 911.6L326.2 913.8L323.8 917.2L320.8 921.5L317.8 926.0L314.5 931.0L311.5 935.9L308.8 940.5L305.8 945.8L302.8 951.3L299.8 957.0L294.8 966.9L289.8 977.4L285.0 988.0L280.5 998.7L278.2 1004.4L276.0 1010.4L268.2 1032.6L265.8 1039.4L264.0 1043.9L259.8 1053.6L257.2 1059.8L253.5 1069.7L250.0 1079.5ZM372.2 869.4L375.8 865.9L379.2 869.4L375.8 872.9ZM441.1 1669.1L444.6 1665.6L448.1 1669.1L444.6 1672.6ZM505.5 817.9L509.0 814.4L512.5 817.9L509.0 821.4ZM553.5 1669.1L557.0 1665.6L560.5 1669.1L557.0 1672.6ZM596.5 809.0L600.0 805.5L603.5 809.0L600.0 812.5ZM638.2 1669.1L641.7 1665.6L645.2 1669.1L641.7 1672.6ZM676.5 805.4L680.0 801.9L683.5 805.4L680.0 808.9ZM711.8 1669.1L715.3 1665.6L718.8 1669.1L715.3 1672.6ZM747.2 803.7L750.8 800.2L754.2 803.7L750.8 807.2ZM782.9 1247.5L786.4 1244.0L789.9 1247.5L786.4 1251.0ZM816.0 800.1L819.5 796.6L823.0 800.1L819.5 803.6ZM846.9 1197.5L850.4 1194.0L853.9 1197.5L850.4 1201.0ZM885.2 763.5L888.8 760.0L892.2 763.5L888.8 767.0ZM913.5 1210.0L917.0 1206.5L920.5 1210.0L917.0 1213.5ZM951.8 663.6L955.2 660.1L958.8 663.6L955.2 667.1ZM984.3 1045.7L987.8 1042.2L991.3 1045.7L987.8 1049.2ZM1056.5 421.4L1060.0 417.9L1063.5 421.4L1060.0 424.9ZM1139.0 1179.6L1142.5 1176.1L1146.0 1179.6L1142.5 1183.1ZM1177.8 669.9L1181.2 666.4L1184.8 669.9L1181.2 673.4ZM1242.9 1239.5L1246.4 1236.0L1249.9 1239.5L1246.4 1243.0ZM1298.2 795.8L1301.8 792.3L1305.2 795.8L1301.8 799.3ZM246.5 1076.0L250.0 1066.2L253.8 1056.3L256.2 1050.1L260.5 1040.4L262.2 1035.9L264.8 1029.1L272.5 1006.9L274.8 1000.9L277.0 995.2L281.5 984.5L286.2 973.9L291.2 963.4L296.2 953.5L299.2 947.8L302.2 942.3L305.2 937.0L308.0 932.4L311.0 927.5L314.2 922.5L317.2 918.0L320.2 913.7L322.8 910.3L324.5 908.1L326.5 905.6L328.8 903.0L332.5 898.8L342.0 888.5L346.5 883.8L349.0 881.3L351.5 879.0L353.8 877.0L356.0 875.3L358.2 873.7L360.2 872.5L362.2 871.5L364.2 870.7L366.2 870.1L368.2 869.6L370.2 869.4L372.2 869.4L379.2 869.4L377.2 869.4L375.2 869.6L373.2 870.1L371.2 870.7L369.2 871.5L367.2 872.5L365.2 873.7L363.0 875.3L360.8 877.0L358.5 879.0L356.0 881.3L353.5 883.8L349.0 888.5L339.5 898.8L335.8 903.0L333.5 905.6L331.5 908.1L329.8 910.3L327.2 913.7L324.2 918.0L321.2 922.5L318.0 927.5L315.0 932.4L312.2 937.0L309.2 942.3L306.2 947.8L303.2 953.5L298.2 963.4L293.2 973.9L288.5 984.5L284.0 995.2L281.8 1000.9L279.5 1006.9L271.8 1029.1L269.2 1035.9L267.5 1040.4L263.2 1050.1L260.8 1056.3L257.0 1066.2L253.5 1076.0ZM379.2 869.4L381.5 869.6L383.5 870.0L385.5 870.6L387.5 871.4L389.5 872.4L391.2 873.5L393.2 875.0L395.0 876.6L396.8 878.4L398.5 880.4L400.2 882.7L401.8 884.9L403.5 887.7L405.0 890.4L406.8 893.8L408.2 897.0L409.8 900.4L411.2 904.2L412.8 908.3L414.0 912.0L416.5 920.1L417.8 924.5L419.0 929.3L421.2 938.8L423.5 949.4L425.5 960.2L427.5 972.2L429.2 984.1L431.0 997.3L432.5 1010.1L434.0 1024.3L435.5 1040.4L436.8 1055.6L438.0 1072.6L439.2 1092.1L440.2 1110.0L441.2 1130.4L442.2 1154.2L443.0 1174.9L443.8 1199.1L444.2 1217.7L445.2 1263.6L445.8 1293.0L446.2 1329.5L446.8 1377.3L447.2 1446.1L447.5 1495.8L448.0 1652.9L448.1 1669.1L441.1 1669.1L441.0 1652.9L440.5 1495.8L440.2 1446.1L439.8 1377.3L439.2 1329.5L438.8 1293.0L438.2 1263.6L437.2 1217.7L436.8 1199.1L436.0 1174.9L435.2 1154.2L434.2 1130.4L433.2 1110.0L432.2 1092.1L431.0 1072.6L429.8 1055.6L428.5 1040.4L427.0 1024.3L425.5 1010.1L424.0 997.3L422.2 984.1L420.5 972.2L418.5 960.2L416.5 949.4L414.2 938.8L412.0 929.3L410.8 924.5L409.5 920.1L407.0 912.0L405.8 908.3L404.2 904.2L402.8 900.4L401.2 897.0L399.8 893.8L398.0 890.4L396.5 887.7L394.8 884.9L393.2 882.7L391.5 880.4L389.8 878.4L388.0 876.6L386.2 875.0L384.2 873.5L382.5 872.4L380.5 871.4L378.5 870.6L376.5 870.0L374.5 869.6L372.2 869.4ZM441.1 1669.1L441.8 1484.0L442.2 1400.3L442.8 1345.3L443.2 1304.5L443.8 1272.0L444.5 1233.2L445.2 1202.0L446.2 1168.2L447.5 1134.0L448.8 1105.9L450.2 1077.7L451.8 1053.7L453.5 1029.7L455.5 1006.1L456.8 993.0L458.0 981.0L459.2 969.8L460.8 957.5L462.2 946.1L463.8 935.6L465.5 924.2L467.2 913.8L469.0 904.2L471.0 894.1L472.8 886.0L474.8 877.4L476.8 869.5L478.8 862.3L480.8 855.8L483.0 849.1L485.2 843.1L487.5 837.7L489.8 833.0L492.0 829.0L493.0 827.4L494.2 825.6L495.5 824.0L496.5 822.8L497.8 821.5L498.8 820.6L500.0 819.7L501.0 819.1L502.2 818.5L503.2 818.2L504.5 818.0L505.5 817.9L512.5 817.9L511.5 818.0L510.2 818.2L509.2 818.5L508.0 819.1L507.0 819.7L505.8 820.6L504.8 821.5L503.5 822.8L502.5 824.0L501.2 825.6L500.0 827.4L499.0 829.0L496.8 833.0L494.5 837.7L492.2 843.1L490.0 849.1L487.8 855.8L485.8 862.3L483.8 869.5L481.8 877.4L479.8 886.0L478.0 894.1L476.0 904.2L474.2 913.8L472.5 924.2L470.8 935.6L469.2 946.1L467.8 957.5L466.2 969.8L465.0 981.0L463.8 993.0L462.5 1006.1L460.5 1029.7L458.8 1053.7L457.2 1077.7L455.8 1105.9L454.5 1134.0L453.2 1168.2L452.2 1202.0L451.5 1233.2L450.8 1272.0L450.2 1304.5L449.8 1345.3L449.2 1400.3L448.8 1484.0L448.1 1669.1ZM512.5 817.9L513.8 818.1L514.8 818.4L515.8 818.8L516.8 819.3L518.0 820.2L519.0 821.1L520.0 822.1L521.0 823.3L522.0 824.6L523.0 826.1L524.0 827.8L525.0 829.7L526.2 832.3L527.5 835.2L528.8 838.4L530.0 841.9L531.2 845.8L532.5 850.1L533.8 854.8L534.8 858.8L536.0 864.3L537.0 869.1L539.0 879.7L541.0 891.8L543.0 905.9L544.8 920.0L546.2 933.8L547.8 949.5L549.2 967.5L550.5 984.7L551.8 1004.4L553.0 1027.4L554.0 1048.9L555.0 1074.3L555.8 1096.6L556.5 1122.9L557.0 1143.4L557.8 1180.4L558.2 1211.3L559.0 1273.7L559.5 1335.9L559.8 1379.7L560.0 1440.2L560.5 1669.1L553.5 1669.1L553.0 1440.2L552.8 1379.7L552.5 1335.9L552.0 1273.7L551.2 1211.3L550.8 1180.4L550.0 1143.4L549.5 1122.9L548.8 1096.6L548.0 1074.3L547.0 1048.9L546.0 1027.4L544.8 1004.4L543.5 984.7L542.2 967.5L540.8 949.5L539.2 933.8L537.8 920.0L536.0 905.9L534.0 891.8L532.0 879.7L530.0 869.1L529.0 864.3L527.8 858.8L526.8 854.8L525.5 850.1L524.2 845.8L523.0 841.9L521.8 838.4L520.5 835.2L519.2 832.3L518.0 829.7L517.0 827.8L516.0 826.1L515.0 824.6L514.0 823.3L513.0 822.1L512.0 821.1L511.0 820.2L509.8 819.3L508.8 818.8L507.8 818.4L506.8 818.1L505.5 817.9ZM553.5 1669.1L553.8 1536.2L554.0 1439.9L554.2 1379.1L554.8 1300.8L555.0 1272.6L555.5 1227.9L556.0 1193.2L556.8 1152.3L557.5 1119.9L558.2 1093.0L559.2 1063.2L560.2 1038.3L561.2 1016.8L562.5 993.7L564.0 970.0L565.8 946.7L566.8 934.9L567.8 924.1L569.8 905.0L570.8 896.5L572.0 886.8L573.0 879.6L574.2 871.3L575.5 863.7L576.8 856.8L578.0 850.4L579.5 843.6L580.8 838.4L582.2 832.9L583.8 828.0L585.2 823.7L586.8 820.0L588.2 816.9L589.8 814.3L591.2 812.3L592.0 811.4L592.8 810.7L593.5 810.1L594.2 809.7L595.0 809.3L595.8 809.1L596.5 809.0L603.5 809.0L602.8 809.1L602.0 809.3L601.2 809.7L600.5 810.1L599.8 810.7L599.0 811.4L598.2 812.3L596.8 814.3L595.2 816.9L593.8 820.0L592.2 823.7L590.8 828.0L589.2 832.9L587.8 838.4L586.5 843.6L585.0 850.4L583.8 856.8L582.5 863.7L581.2 871.3L580.0 879.6L579.0 886.8L577.8 896.5L576.8 905.0L574.8 924.1L573.8 934.9L572.8 946.7L571.0 970.0L569.5 993.7L568.2 1016.8L567.2 1038.3L566.2 1063.2L565.2 1093.0L564.5 1119.9L563.8 1152.3L563.0 1193.2L562.5 1227.9L562.0 1272.6L561.8 1300.8L561.2 1379.1L561.0 1439.9L560.8 1536.2L560.5 1669.1ZM603.5 809.0L604.5 809.1L605.5 809.3L606.2 809.7L607.0 810.2L607.8 810.7L608.5 811.5L609.2 812.3L610.8 814.4L612.0 816.5L613.2 818.9L614.5 821.8L615.8 825.0L617.0 828.7L618.2 832.8L619.5 837.4L620.5 841.4L621.8 846.9L622.8 851.6L624.8 862.4L626.8 874.9L628.5 887.6L630.2 902.2L631.8 916.5L633.2 933.0L634.8 952.1L636.0 970.5L637.2 991.9L638.2 1011.9L639.2 1035.1L640.0 1055.5L640.8 1079.1L641.5 1107.2L642.0 1129.4L642.5 1155.4L643.0 1186.9L643.8 1251.0L644.2 1315.9L644.5 1362.5L644.8 1428.9L645.2 1669.1L638.2 1669.1L637.8 1428.9L637.5 1362.5L637.2 1315.9L636.8 1251.0L636.0 1186.9L635.5 1155.4L635.0 1129.4L634.5 1107.2L633.8 1079.1L633.0 1055.5L632.2 1035.1L631.2 1011.9L630.2 991.9L629.0 970.5L627.8 952.1L626.2 933.0L624.8 916.5L623.2 902.2L621.5 887.6L619.8 874.9L617.8 862.4L615.8 851.6L614.8 846.9L613.5 841.4L612.5 837.4L611.2 832.8L610.0 828.7L608.8 825.0L607.5 821.8L606.2 818.9L605.0 816.5L603.8 814.4L602.2 812.3L601.5 811.5L600.8 810.7L600.0 810.2L599.2 809.7L598.5 809.3L597.5 809.1L596.5 809.0ZM638.2 1669.1L638.5 1487.3L638.8 1398.6L639.2 1299.8L639.5 1266.9L640.0 1216.5L640.5 1178.5L641.0 1147.9L641.5 1122.4L642.2 1090.7L643.0 1064.3L643.8 1041.9L644.8 1016.4L645.8 994.7L647.0 971.4L648.5 947.8L650.0 927.7L651.8 907.7L653.5 890.6L654.5 881.9L655.5 873.9L656.5 866.6L657.5 859.8L658.5 853.6L659.8 846.4L660.8 841.2L662.0 835.3L663.2 830.0L664.5 825.3L665.8 821.2L667.0 817.5L668.2 814.4L669.8 811.3L671.0 809.2L672.2 807.6L673.5 806.4L674.2 806.0L675.0 805.6L675.8 805.5L676.5 805.4L683.5 805.4L682.8 805.5L682.0 805.6L681.2 806.0L680.5 806.4L679.2 807.6L678.0 809.2L676.8 811.3L675.2 814.4L674.0 817.5L672.8 821.2L671.5 825.3L670.2 830.0L669.0 835.3L667.8 841.2L666.8 846.4L665.5 853.6L664.5 859.8L663.5 866.6L662.5 873.9L661.5 881.9L660.5 890.6L658.8 907.7L657.0 927.7L655.5 947.8L654.0 971.4L652.8 994.7L651.8 1016.4L650.8 1041.9L650.0 1064.3L649.2 1090.7L648.5 1122.4L648.0 1147.9L647.5 1178.5L647.0 1216.5L646.5 1266.9L646.2 1299.8L645.8 1398.6L645.5 1487.3L645.2 1669.1ZM683.5 805.4L684.2 805.6L684.8 805.8L685.5 806.2L686.2 806.8L687.5 808.1L688.8 809.9L689.8 811.8L690.8 813.9L691.8 816.3L693.0 819.9L694.0 823.2L695.0 826.8L696.0 830.8L697.0 835.3L698.0 840.2L699.8 850.0L701.5 861.5L703.2 874.9L704.8 888.2L706.2 903.6L707.8 921.5L709.0 938.7L710.2 958.7L711.2 977.2L712.2 998.5L713.2 1023.6L714.0 1045.7L714.5 1062.5L715.2 1091.9L715.8 1115.3L716.2 1142.9L716.8 1176.6L717.5 1247.0L718.0 1321.7L718.2 1378.9L718.5 1468.7L718.8 1669.1L711.8 1669.1L711.5 1468.7L711.2 1378.9L711.0 1321.7L710.5 1247.0L709.8 1176.6L709.2 1142.9L708.8 1115.3L708.2 1091.9L707.5 1062.5L707.0 1045.7L706.2 1023.6L705.2 998.5L704.2 977.2L703.2 958.7L702.0 938.7L700.8 921.5L699.2 903.6L697.8 888.2L696.2 874.9L694.5 861.5L692.8 850.0L691.0 840.2L690.0 835.3L689.0 830.8L688.0 826.8L687.0 823.2L686.0 819.9L684.8 816.3L683.8 813.9L682.8 811.8L681.8 809.9L680.5 808.1L679.2 806.8L678.5 806.2L677.8 805.8L677.2 805.6L676.5 805.4ZM711.8 1669.1L712.0 1524.6L712.2 1409.1L712.5 1342.1L713.0 1259.2L713.5 1205.4L714.2 1148.9L714.8 1120.2L715.2 1096.0L716.2 1056.8L717.0 1033.0L717.8 1012.4L718.5 994.4L719.5 973.5L720.5 955.3L721.5 939.3L722.5 925.1L723.8 909.3L725.0 895.4L726.5 880.9L728.0 868.2L729.5 857.1L731.0 847.4L732.8 837.6L734.5 829.3L736.2 822.4L737.2 818.9L738.2 815.9L739.2 813.2L740.2 810.9L741.2 808.9L742.2 807.2L743.2 805.9L743.8 805.3L744.5 804.7L745.5 804.0L746.0 803.8L746.8 803.7L747.2 803.7L754.2 803.7L753.8 803.7L753.0 803.8L752.5 804.0L751.5 804.7L750.8 805.3L750.2 805.9L749.2 807.2L748.2 808.9L747.2 810.9L746.2 813.2L745.2 815.9L744.2 818.9L743.2 822.4L741.5 829.3L739.8 837.6L738.0 847.4L736.5 857.1L735.0 868.2L733.5 880.9L732.0 895.4L730.8 909.3L729.5 925.1L728.5 939.3L727.5 955.3L726.5 973.5L725.5 994.4L724.8 1012.4L724.0 1033.0L723.2 1056.8L722.2 1096.0L721.8 1120.2L721.2 1148.9L720.5 1205.4L720.0 1259.2L719.5 1342.1L719.2 1409.1L719.0 1524.6L718.8 1669.1ZM754.2 803.7L755.0 803.8L756.0 804.2L757.0 805.0L758.2 806.3L759.2 807.8L760.2 809.5L761.5 812.1L762.5 814.6L763.5 817.4L764.5 820.6L765.5 824.1L766.5 828.0L767.5 832.3L768.5 837.0L769.5 842.1L770.5 847.7L772.2 858.7L774.0 871.6L775.5 884.3L777.0 898.9L778.2 912.7L779.5 928.4L780.5 942.5L781.5 958.4L782.5 976.2L783.5 996.4L784.2 1013.8L785.5 1049.1L786.2 1074.8L786.8 1094.5L787.8 1141.7L789.2 1229.0L789.5 1240.0L789.8 1246.4L789.9 1247.5L782.9 1247.5L782.8 1246.4L782.5 1240.0L782.2 1229.0L780.8 1141.7L779.8 1094.5L779.2 1074.8L778.5 1049.1L777.2 1013.8L776.5 996.4L775.5 976.2L774.5 958.4L773.5 942.5L772.5 928.4L771.2 912.7L770.0 898.9L768.5 884.3L767.0 871.6L765.2 858.7L763.5 847.7L762.5 842.1L761.5 837.0L760.5 832.3L759.5 828.0L758.5 824.1L757.5 820.6L756.5 817.4L755.5 814.6L754.5 812.1L753.2 809.5L752.2 807.8L751.2 806.3L750.0 805.0L749.0 804.2L748.0 803.8L747.2 803.7ZM782.9 1247.5L783.0 1247.0L783.2 1241.6L783.5 1231.4L785.2 1129.5L786.0 1093.9L786.8 1064.1L787.5 1038.7L788.5 1010.0L789.5 986.3L790.5 965.8L792.0 939.3L793.5 917.0L795.0 898.0L796.8 879.2L797.8 869.8L798.8 861.3L799.8 853.5L800.8 846.4L801.8 839.9L802.8 834.1L803.8 828.8L805.0 822.9L805.8 819.7L806.8 815.9L807.5 813.3L808.5 810.3L809.2 808.3L810.2 806.0L811.2 804.0L812.2 802.5L813.0 801.6L814.0 800.7L814.5 800.4L815.0 800.2L815.5 800.1L816.0 800.1L823.0 800.1L822.5 800.1L822.0 800.2L821.5 800.4L821.0 800.7L820.0 801.6L819.2 802.5L818.2 804.0L817.2 806.0L816.2 808.3L815.5 810.3L814.5 813.3L813.8 815.9L812.8 819.7L812.0 822.9L810.8 828.8L809.8 834.1L808.8 839.9L807.8 846.4L806.8 853.5L805.8 861.3L804.8 869.8L803.8 879.2L802.0 898.0L800.5 917.0L799.0 939.3L797.5 965.8L796.5 986.3L795.5 1010.0L794.5 1038.7L793.8 1064.1L793.0 1093.9L792.2 1129.5L790.5 1231.4L790.2 1241.6L790.0 1247.0L789.9 1247.5ZM823.0 800.1L823.5 800.1L824.0 800.3L824.5 800.5L825.0 800.9L826.0 801.9L826.8 802.8L827.8 804.5L828.5 806.0L829.5 808.5L830.2 810.5L831.2 813.7L832.0 816.5L833.0 820.5L833.8 823.9L834.8 828.9L835.5 833.1L837.0 842.4L838.5 853.4L839.8 863.9L841.0 875.8L842.0 886.5L843.2 901.7L844.2 915.4L845.2 930.7L846.2 947.9L847.2 967.2L848.0 983.4L849.2 1016.6L850.2 1049.2L851.5 1100.2L853.2 1184.4L853.5 1192.3L853.8 1196.7L853.9 1197.5L846.9 1197.5L846.8 1196.7L846.5 1192.3L846.2 1184.4L844.5 1100.2L843.2 1049.2L842.2 1016.6L841.0 983.4L840.2 967.2L839.2 947.9L838.2 930.7L837.2 915.4L836.2 901.7L835.0 886.5L834.0 875.8L832.8 863.9L831.5 853.4L830.0 842.4L828.5 833.1L827.8 828.9L826.8 823.9L826.0 820.5L825.0 816.5L824.2 813.7L823.2 810.5L822.5 808.5L821.5 806.0L820.8 804.5L819.8 802.8L819.0 801.9L818.0 800.9L817.5 800.5L817.0 800.3L816.5 800.1L816.0 800.1ZM846.9 1197.5L847.0 1197.2L847.2 1193.5L847.8 1176.3L849.2 1102.8L850.5 1051.6L851.5 1018.7L852.8 985.2L853.5 968.8L854.5 949.2L855.5 931.7L856.5 916.0L857.5 901.8L858.8 886.0L859.8 874.6L861.0 861.8L862.5 848.1L864.0 835.9L865.8 823.5L867.5 812.6L869.2 803.0L871.2 793.6L873.0 786.5L874.0 782.9L875.0 779.6L876.0 776.7L877.0 774.0L878.0 771.6L879.2 769.1L880.2 767.4L881.2 766.0L882.2 764.9L883.2 764.1L884.2 763.6L884.8 763.5L885.2 763.5L892.2 763.5L891.8 763.5L891.2 763.6L890.2 764.1L889.2 764.9L888.2 766.0L887.2 767.4L886.2 769.1L885.0 771.6L884.0 774.0L883.0 776.7L882.0 779.6L881.0 782.9L880.0 786.5L878.2 793.6L876.2 803.0L874.5 812.6L872.8 823.5L871.0 835.9L869.5 848.1L868.0 861.8L866.8 874.6L865.8 886.0L864.5 901.8L863.5 916.0L862.5 931.7L861.5 949.2L860.5 968.8L859.8 985.2L858.5 1018.7L857.5 1051.6L856.2 1102.8L854.8 1176.3L854.2 1193.5L854.0 1197.2L853.9 1197.5ZM892.2 763.5L892.8 763.5L893.2 763.6L894.0 764.0L895.0 764.8L896.0 766.0L897.0 767.6L897.8 769.1L899.0 772.2L900.2 776.0L901.5 780.7L902.5 785.1L903.8 791.5L904.8 797.5L905.8 804.2L906.8 811.8L907.8 820.4L908.8 830.1L909.8 841.1L910.5 850.3L912.0 871.7L912.8 884.1L913.5 898.0L914.5 919.1L915.5 944.9L916.5 976.6L917.2 1005.9L918.0 1042.0L918.5 1071.2L919.0 1106.0L920.0 1188.6L920.2 1204.1L920.5 1210.0L913.5 1210.0L913.2 1204.1L913.0 1188.6L912.0 1106.0L911.5 1071.2L911.0 1042.0L910.2 1005.9L909.5 976.6L908.5 944.9L907.5 919.1L906.5 898.0L905.8 884.1L905.0 871.7L903.5 850.3L902.8 841.1L901.8 830.1L900.8 820.4L899.8 811.8L898.8 804.2L897.8 797.5L896.8 791.5L895.5 785.1L894.5 780.7L893.2 776.0L892.0 772.2L890.8 769.1L890.0 767.6L889.0 766.0L888.0 764.8L887.0 764.0L886.2 763.6L885.8 763.5L885.2 763.5ZM913.5 1210.0L913.8 1204.0L914.0 1188.3L915.0 1103.2L915.5 1067.1L916.0 1036.4L916.8 998.3L917.5 967.0L918.5 932.6L919.5 904.1L920.5 880.1L922.0 849.5L923.5 823.8L925.2 798.4L927.0 776.9L928.0 766.0L929.0 755.9L930.0 746.7L931.2 736.1L932.5 726.5L933.8 717.8L935.0 709.9L936.2 702.7L937.2 697.5L938.2 692.8L939.2 688.4L940.2 684.4L941.2 680.8L942.2 677.6L943.2 674.7L944.5 671.6L945.5 669.5L946.5 667.7L947.5 666.2L948.0 665.6L948.8 664.9L949.8 664.1L950.8 663.7L951.8 663.6L958.8 663.6L957.8 663.7L956.8 664.1L955.8 664.9L955.0 665.6L954.5 666.2L953.5 667.7L952.5 669.5L951.5 671.6L950.2 674.7L949.2 677.6L948.2 680.8L947.2 684.4L946.2 688.4L945.2 692.8L944.2 697.5L943.2 702.7L942.0 709.9L940.8 717.8L939.5 726.5L938.2 736.1L937.0 746.7L936.0 755.9L935.0 766.0L934.0 776.9L932.2 798.4L930.5 823.8L929.0 849.5L927.5 880.1L926.5 904.1L925.5 932.6L924.5 967.0L923.8 998.3L923.0 1036.4L922.5 1067.1L922.0 1103.2L921.0 1188.3L920.8 1204.0L920.5 1210.0ZM958.8 663.6L959.2 663.7L960.0 663.9L960.5 664.2L961.2 664.7L962.2 665.6L963.5 667.2L964.5 668.8L965.8 671.2L966.8 673.5L968.0 676.8L969.0 679.9L970.0 683.3L971.0 687.2L972.0 691.4L973.0 696.2L974.8 705.6L976.5 717.0L978.0 728.4L979.2 739.5L980.5 752.2L981.5 763.7L982.8 780.3L983.8 795.5L984.8 812.9L985.5 827.8L986.8 858.9L987.5 881.7L988.0 899.3L989.0 941.4L990.8 1033.2L991.0 1041.7L991.2 1045.6L991.3 1045.7L984.3 1045.7L984.2 1045.6L984.0 1041.7L983.8 1033.2L982.0 941.4L981.0 899.3L980.5 881.7L979.8 858.9L978.5 827.8L977.8 812.9L976.8 795.5L975.8 780.3L974.5 763.7L973.5 752.2L972.2 739.5L971.0 728.4L969.5 717.0L967.8 705.6L966.0 696.2L965.0 691.4L964.0 687.2L963.0 683.3L962.0 679.9L961.0 676.8L959.8 673.5L958.8 671.2L957.5 668.8L956.5 667.2L955.2 665.6L954.2 664.7L953.5 664.2L953.0 663.9L952.2 663.7L951.8 663.6ZM984.3 1045.7L984.5 1043.8L984.8 1036.7L985.0 1025.3L986.8 920.5L987.2 895.2L988.0 862.1L988.8 833.7L989.8 801.5L990.5 780.9L991.5 756.9L992.8 730.5L994.2 702.8L995.8 678.7L997.2 657.4L999.0 635.4L1000.8 615.7L1002.8 595.7L1005.0 575.7L1007.5 556.0L1010.0 538.6L1011.2 530.6L1012.8 521.6L1014.0 514.6L1015.5 506.6L1017.0 499.2L1018.5 492.3L1020.0 485.8L1021.5 479.7L1023.0 474.0L1024.8 467.9L1026.2 463.0L1028.0 457.7L1029.8 452.9L1031.5 448.5L1033.2 444.5L1035.0 440.9L1036.8 437.6L1038.5 434.7L1040.2 432.1L1042.2 429.5L1044.0 427.5L1046.0 425.7L1048.0 424.2L1050.0 423.0L1052.0 422.2L1053.0 421.9L1054.2 421.6L1055.2 421.5L1056.5 421.4L1063.5 421.4L1062.2 421.5L1061.2 421.6L1060.0 421.9L1059.0 422.2L1057.0 423.0L1055.0 424.2L1053.0 425.7L1051.0 427.5L1049.2 429.5L1047.2 432.1L1045.5 434.7L1043.8 437.6L1042.0 440.9L1040.2 444.5L1038.5 448.5L1036.8 452.9L1035.0 457.7L1033.2 463.0L1031.8 467.9L1030.0 474.0L1028.5 479.7L1027.0 485.8L1025.5 492.3L1024.0 499.2L1022.5 506.6L1021.0 514.6L1019.8 521.6L1018.2 530.6L1017.0 538.6L1014.5 556.0L1012.0 575.7L1009.8 595.7L1007.8 615.7L1006.0 635.4L1004.2 657.4L1002.8 678.7L1001.2 702.8L999.8 730.5L998.5 756.9L997.5 780.9L996.8 801.5L995.8 833.7L995.0 862.1L994.2 895.2L993.8 920.5L992.0 1025.3L991.8 1036.7L991.5 1043.8L991.3 1045.7ZM1063.5 421.4L1065.5 421.5L1066.8 421.7L1068.0 422.1L1069.2 422.5L1070.2 422.9L1071.5 423.6L1072.5 424.2L1073.8 425.1L1074.8 425.9L1077.0 428.1L1079.2 430.6L1081.5 433.7L1083.5 436.8L1085.8 440.7L1087.8 444.7L1089.8 449.1L1091.8 453.9L1093.8 459.2L1095.8 464.9L1097.8 471.2L1099.8 477.9L1101.8 485.2L1103.5 492.0L1105.5 500.4L1107.2 508.2L1109.0 516.6L1110.8 525.4L1112.5 534.8L1114.2 544.9L1116.0 555.6L1117.5 565.3L1119.0 575.6L1120.5 586.5L1123.2 608.2L1124.8 621.2L1126.0 632.7L1128.2 655.1L1130.5 680.3L1132.5 705.7L1134.2 730.9L1136.0 759.6L1137.5 788.0L1138.8 815.3L1140.0 847.0L1141.0 877.1L1141.8 903.6L1142.5 934.2L1143.2 970.8L1143.8 999.9L1144.2 1034.5L1144.8 1076.2L1145.5 1151.0L1145.8 1171.4L1146.0 1179.6L1139.0 1179.6L1138.8 1171.4L1138.5 1151.0L1137.8 1076.2L1137.2 1034.5L1136.8 999.9L1136.2 970.8L1135.5 934.2L1134.8 903.6L1134.0 877.1L1133.0 847.0L1131.8 815.3L1130.5 788.0L1129.0 759.6L1127.2 730.9L1125.5 705.7L1123.5 680.3L1121.2 655.1L1119.0 632.7L1117.8 621.2L1116.2 608.2L1113.5 586.5L1112.0 575.6L1110.5 565.3L1109.0 555.6L1107.2 544.9L1105.5 534.8L1103.8 525.4L1102.0 516.6L1100.2 508.2L1098.5 500.4L1096.5 492.0L1094.8 485.2L1092.8 477.9L1090.8 471.2L1088.8 464.9L1086.8 459.2L1084.8 453.9L1082.8 449.1L1080.8 444.7L1078.8 440.7L1076.5 436.8L1074.5 433.7L1072.2 430.6L1070.0 428.1L1067.8 425.9L1066.8 425.1L1065.5 424.2L1064.5 423.6L1063.2 422.9L1062.2 422.5L1061.0 422.1L1059.8 421.7L1058.5 421.5L1056.5 421.4ZM1139.0 1179.6L1139.2 1171.5L1140.2 1077.3L1141.0 1019.0L1141.8 975.3L1142.8 931.2L1143.2 913.2L1144.0 889.8L1144.8 869.7L1145.5 852.4L1146.2 837.0L1147.2 819.0L1148.2 803.3L1149.5 786.1L1150.8 771.3L1152.0 758.3L1153.2 746.9L1154.8 734.9L1156.2 724.4L1158.0 714.0L1159.8 705.1L1161.5 697.5L1163.2 691.1L1164.2 688.0L1165.2 685.1L1166.2 682.5L1167.2 680.2L1168.2 678.2L1169.5 676.0L1170.5 674.6L1171.8 673.0L1172.8 672.0L1174.0 671.1L1175.2 670.4L1176.5 670.0L1177.8 669.9L1184.8 669.9L1183.5 670.0L1182.2 670.4L1181.0 671.1L1179.8 672.0L1178.8 673.0L1177.5 674.6L1176.5 676.0L1175.2 678.2L1174.2 680.2L1173.2 682.5L1172.2 685.1L1171.2 688.0L1170.2 691.1L1168.5 697.5L1166.8 705.1L1165.0 714.0L1163.2 724.4L1161.8 734.9L1160.2 746.9L1159.0 758.3L1157.8 771.3L1156.5 786.1L1155.2 803.3L1154.2 819.0L1153.2 837.0L1152.5 852.4L1151.8 869.7L1151.0 889.8L1150.2 913.2L1149.8 931.2L1148.8 975.3L1148.0 1019.0L1147.2 1077.3L1146.2 1171.5L1146.0 1179.6ZM1184.8 669.9L1186.0 670.0L1186.8 670.1L1187.5 670.4L1189.0 671.2L1190.5 672.3L1192.0 673.8L1193.5 675.6L1195.0 677.7L1196.5 680.1L1198.2 683.3L1200.0 686.9L1201.5 690.3L1203.0 694.0L1204.5 698.0L1206.2 703.0L1207.8 707.7L1209.2 712.7L1210.8 718.1L1212.2 723.8L1213.8 729.8L1216.5 741.9L1219.2 755.3L1222.0 770.4L1224.5 785.6L1227.0 802.6L1229.2 819.6L1231.2 836.4L1233.0 852.7L1234.8 870.8L1236.5 891.0L1238.0 910.4L1239.5 932.3L1240.8 952.9L1242.0 976.1L1243.0 996.8L1243.8 1013.7L1244.5 1033.1L1245.2 1055.1L1246.0 1080.0L1247.2 1130.1L1248.8 1204.4L1249.2 1226.6L1249.5 1234.4L1249.8 1238.7L1249.9 1239.5L1242.9 1239.5L1242.8 1238.7L1242.5 1234.4L1242.2 1226.6L1241.8 1204.4L1240.2 1130.1L1239.0 1080.0L1238.2 1055.1L1237.5 1033.1L1236.8 1013.7L1236.0 996.8L1235.0 976.1L1233.8 952.9L1232.5 932.3L1231.0 910.4L1229.5 891.0L1227.8 870.8L1226.0 852.7L1224.2 836.4L1222.2 819.6L1220.0 802.6L1217.5 785.6L1215.0 770.4L1212.2 755.3L1209.5 741.9L1206.8 729.8L1205.2 723.8L1203.8 718.1L1202.2 712.7L1200.8 707.7L1199.2 703.0L1197.5 698.0L1196.0 694.0L1194.5 690.3L1193.0 686.9L1191.2 683.3L1189.5 680.1L1188.0 677.7L1186.5 675.6L1185.0 673.8L1183.5 672.3L1182.0 671.2L1180.5 670.4L1179.8 670.1L1179.0 670.0L1177.8 669.9ZM1242.9 1239.5L1243.0 1239.2L1243.2 1235.6L1243.8 1218.9L1245.2 1147.3L1246.5 1097.1L1247.8 1057.9L1249.0 1026.6L1250.0 1006.5L1251.2 984.3L1252.2 968.6L1253.5 951.2L1254.8 935.9L1256.0 922.2L1257.5 907.8L1259.0 895.1L1260.8 882.0L1262.5 870.6L1264.2 860.5L1266.2 850.5L1268.2 841.7L1269.2 837.8L1270.5 833.2L1271.5 829.9L1272.8 826.0L1273.8 823.1L1275.0 819.8L1276.2 816.8L1277.5 814.0L1278.8 811.5L1280.0 809.2L1281.2 807.2L1282.8 805.0L1284.0 803.4L1285.5 801.7L1287.0 800.3L1288.5 799.1L1290.0 798.1L1291.5 797.3L1293.0 796.7L1294.8 796.2L1296.5 795.9L1298.2 795.8L1305.2 795.8L1303.5 795.9L1301.8 796.2L1300.0 796.7L1298.5 797.3L1297.0 798.1L1295.5 799.1L1294.0 800.3L1292.5 801.7L1291.0 803.4L1289.8 805.0L1288.2 807.2L1287.0 809.2L1285.8 811.5L1284.5 814.0L1283.2 816.8L1282.0 819.8L1280.8 823.1L1279.8 826.0L1278.5 829.9L1277.5 833.2L1276.2 837.8L1275.2 841.7L1273.2 850.5L1271.2 860.5L1269.5 870.6L1267.8 882.0L1266.0 895.1L1264.5 907.8L1263.0 922.2L1261.8 935.9L1260.5 951.2L1259.2 968.6L1258.2 984.3L1257.0 1006.5L1256.0 1026.6L1254.8 1057.9L1253.5 1097.1L1252.2 1147.3L1250.8 1218.9L1250.2 1235.6L1250.0 1239.2L1249.9 1239.5ZM1305.2 795.8L1307.0 795.9L1308.8 796.1L1310.5 796.6L1312.5 797.4L1314.2 798.3L1316.2 799.5L1318.2 800.9L1320.2 802.5L1322.2 804.3L1324.2 806.3L1326.2 808.4L1328.5 811.0L1330.5 813.5L1332.8 816.5L1335.0 819.6L1337.5 823.3L1340.2 827.5L1343.2 832.2L1346.2 837.2L1349.0 841.9L1351.8 846.8L1354.5 851.8L1357.2 857.0L1359.8 861.9L1362.2 867.0L1364.5 871.8L1369.2 882.4L1374.2 894.3L1379.0 906.3L1383.0 917.0L1386.8 927.8L1389.2 935.5L1394.5 952.1L1399.0 965.8L1402.2 976.1L1405.2 985.9L1408.5 996.9L1418.2 1030.9L1421.8 1042.9L1436.8 1091.6L1442.0 1109.1L1446.8 1125.3L1450.8 1139.4L1454.2 1152.3L1457.5 1164.7L1460.5 1176.7L1463.8 1190.3L1467.0 1204.6L1470.2 1219.5L1473.5 1235.0L1466.5 1235.0L1463.2 1219.5L1460.0 1204.6L1456.8 1190.3L1453.5 1176.7L1450.5 1164.7L1447.2 1152.3L1443.8 1139.4L1439.8 1125.3L1435.0 1109.1L1429.8 1091.6L1414.8 1042.9L1411.2 1030.9L1401.5 996.9L1398.2 985.9L1395.2 976.1L1392.0 965.8L1387.5 952.1L1382.2 935.5L1379.8 927.8L1376.0 917.0L1372.0 906.3L1367.2 894.3L1362.2 882.4L1357.5 871.8L1355.2 867.0L1352.8 861.9L1350.2 857.0L1347.5 851.8L1344.8 846.8L1342.0 841.9L1339.2 837.2L1336.2 832.2L1333.2 827.5L1330.5 823.3L1328.0 819.6L1325.8 816.5L1323.5 813.5L1321.5 811.0L1319.2 808.4L1317.2 806.3L1315.2 804.3L1313.2 802.5L1311.2 800.9L1309.2 799.5L1307.2 798.3L1305.5 797.4L1303.5 796.6L1301.8 796.1L1300.0 795.9L1298.2 795.8Z"/>
<path id="c-blue" stroke="#0000fe" stroke-width="7.0" d="M250.0 1164.2L253.0 1150.1L256.2 1136.1L259.0 1125.2L262.8 1111.3L270.0 1081.8L273.8 1067.7L276.8 1056.8L279.5 1047.5L282.0 1039.7L284.2 1033.4L286.5 1027.7L288.8 1022.4L295.8 1006.7L298.0 1001.3L300.2 995.5L303.2 986.9L310.0 966.6L313.2 957.1L329.2 912.1L333.8 899.9L338.0 888.7L344.0 873.7L346.8 867.1L349.2 861.3L352.0 855.2L354.5 849.8L357.0 844.8L359.5 839.9L362.0 835.3L364.5 831.0L367.0 826.9L369.5 823.0L372.0 819.4L374.8 815.7L377.2 812.6L379.8 809.8L382.2 807.1L384.8 804.8L387.2 802.6L389.8 800.8L392.2 799.1L394.8 797.8L397.2 796.8L399.5 796.1L401.8 795.6L404.0 795.4L406.2 795.5L408.2 795.9L410.5 796.6L412.5 797.4L414.5 798.6L416.5 800.1L418.5 801.9L420.2 803.8L422.2 806.2L424.0 808.7L425.8 811.4L427.5 814.6L429.2 818.0L431.0 821.8L432.5 825.5L434.0 829.4L435.5 833.6L437.0 838.3L438.5 843.3L439.8 847.8L441.0 852.6L442.2 857.7L443.5 863.2L444.8 869.1L446.0 875.4L447.2 882.2L449.5 895.6L451.5 909.3L453.5 924.8L455.2 940.3L457.0 957.9L458.5 975.1L460.0 994.9L461.2 1013.9L462.5 1035.8L463.5 1056.0L464.5 1079.5L465.2 1099.9L466.0 1123.5L466.8 1151.5L467.8 1199.2L468.2 1230.1L468.8 1268.8L469.2 1320.5L469.8 1398.1L470.0 1458.1L470.5 1669.1L471.0 1457.7L471.2 1397.5L471.5 1353.8L472.0 1291.4L472.5 1246.8L473.0 1212.0L473.8 1171.1L474.5 1138.6L475.5 1103.6L476.5 1075.0L477.8 1045.3L479.0 1020.3L480.5 994.8L482.0 973.0L483.0 960.0L484.0 948.1L485.0 937.0L486.2 924.3L487.5 912.7L488.8 901.9L490.0 892.0L491.5 881.1L493.0 871.0L494.5 861.8L496.0 853.3L497.5 845.4L499.2 837.0L501.0 829.4L502.8 822.5L504.5 816.2L506.2 810.5L508.2 804.7L510.0 800.2L512.0 795.6L514.0 791.7L516.0 788.5L517.0 787.1L518.0 785.8L519.0 784.7L520.0 783.7L521.0 782.9L522.0 782.2L523.0 781.7L524.2 781.2L525.2 781.0L526.2 781.0L527.2 781.0L528.2 781.3L529.2 781.6L530.2 782.2L531.2 782.9L532.2 783.7L533.2 784.7L534.2 785.9L536.0 788.4L537.5 791.0L538.8 793.4L540.2 796.7L541.5 799.8L543.0 804.0L544.2 807.9L545.5 812.1L546.8 816.7L548.0 821.7L549.2 827.2L550.5 833.1L551.5 838.2L552.8 845.2L553.8 851.1L555.8 864.4L557.8 879.7L559.5 895.0L561.2 912.8L562.8 930.3L564.2 950.5L565.5 970.0L566.8 992.7L567.8 1013.9L568.8 1038.7L569.5 1060.5L570.2 1086.0L570.8 1105.7L571.5 1141.1L572.0 1170.3L572.8 1228.1L573.2 1283.7L573.8 1371.0L574.0 1443.6L574.4 1669.1L574.8 1462.9L575.0 1382.9L575.2 1329.8L575.8 1258.5L576.5 1190.1L577.0 1156.9L577.5 1129.6L578.0 1106.4L578.8 1077.1L579.5 1052.5L580.2 1031.3L581.2 1007.0L582.2 986.1L583.2 967.8L584.5 947.9L585.8 930.4L587.2 912.1L588.8 896.2L590.5 879.9L592.2 865.7L594.2 851.7L596.2 839.6L598.2 829.1L600.2 820.2L601.2 816.2L602.5 811.6L603.5 808.3L604.8 804.6L606.0 801.3L607.2 798.5L608.2 796.4L609.5 794.2L610.8 792.4L612.0 791.0L613.0 790.1L614.2 789.2L615.5 788.8L616.0 788.7L616.8 788.6L617.2 788.7L618.0 788.9L619.2 789.4L620.5 790.3L621.8 791.5L623.0 793.1L624.2 795.1L625.5 797.4L626.5 799.5L627.8 802.5L628.8 805.2L630.0 808.9L631.0 812.2L632.2 816.7L633.2 820.6L635.2 829.5L637.2 839.9L639.2 852.0L641.0 864.2L642.8 878.2L644.2 892.0L645.5 904.9L646.8 919.5L648.0 935.9L649.2 954.7L650.2 971.7L651.2 990.8L652.2 1012.5L653.5 1046.4L654.8 1089.3L655.8 1133.2L657.5 1226.4L657.8 1235.3L658.0 1239.9L658.1 1240.4L658.2 1239.4L658.5 1233.8L658.8 1224.1L660.5 1128.4L661.5 1083.7L662.8 1039.6L664.0 1004.7L665.0 982.1L666.0 962.2L667.0 944.5L668.0 928.7L669.2 911.2L670.5 895.8L671.8 882.3L673.2 868.0L674.8 855.6L676.5 843.3L678.2 832.9L680.0 824.2L680.8 820.9L681.8 817.0L682.8 813.6L683.8 810.5L684.5 808.6L685.5 806.2L686.5 804.3L687.5 802.8L688.5 801.6L689.5 800.8L690.5 800.3L691.0 800.1L691.8 800.1L692.8 800.3L693.8 800.8L694.8 801.6L696.0 803.1L697.2 805.0L698.2 806.9L699.2 809.0L700.2 811.5L701.5 815.0L702.5 818.2L703.5 821.8L704.5 825.6L706.0 832.1L707.2 838.2L708.5 845.0L709.8 852.4L711.0 860.7L712.0 867.9L713.2 877.8L714.2 886.5L715.2 896.0L716.2 906.3L718.0 927.0L719.0 940.5L719.8 951.6L721.2 977.0L722.5 1002.1L723.5 1025.8L724.5 1054.4L725.5 1089.5L726.2 1121.9L727.0 1161.6L728.5 1264.7L728.8 1278.5L729.0 1286.1L729.1 1286.8L729.2 1285.2L729.5 1276.2L731.0 1173.5L731.8 1131.3L732.5 1097.1L733.5 1060.3L734.8 1023.8L736.0 995.0L736.8 980.0L737.8 962.2L738.5 950.1L739.5 935.6L740.5 922.6L741.8 908.1L743.0 895.2L744.2 883.8L745.5 873.6L747.0 862.7L748.5 853.2L750.0 845.0L751.5 837.8L753.2 830.6L754.0 827.9L755.0 824.6L755.8 822.4L756.8 819.8L757.5 818.1L758.5 816.1L759.2 814.8L760.2 813.4L761.0 812.5L762.0 811.6L762.8 811.2L763.8 810.8L764.8 810.8L765.8 811.1L766.8 811.7L767.5 812.4L768.5 813.6L769.2 814.7L770.2 816.5L771.0 818.0L772.0 820.4L772.8 822.4L773.8 825.4L774.5 827.9L776.2 834.6L777.8 841.4L779.2 849.1L780.8 858.0L782.2 868.2L783.5 877.8L785.0 890.7L786.2 903.0L787.5 916.8L788.5 929.2L789.5 942.9L790.2 954.2L791.2 970.9L792.0 984.8L793.5 1017.0L794.8 1051.4L795.8 1085.7L796.5 1117.0L797.5 1169.0L798.8 1248.1L799.0 1260.4L799.2 1267.7L799.4 1269.0L799.5 1268.4L799.8 1262.3L800.0 1250.8L801.5 1156.9L802.2 1118.4L803.0 1086.4L803.8 1059.6L804.8 1029.6L805.5 1010.5L806.8 983.8L808.0 961.0L809.5 937.9L811.0 918.4L812.8 899.3L814.5 883.3L815.5 875.3L816.5 868.1L817.5 861.6L818.5 855.8L819.5 850.5L820.8 844.7L821.5 841.6L822.5 837.9L823.5 834.6L824.5 831.8L825.2 830.0L826.2 827.9L827.2 826.3L828.2 825.0L829.2 824.1L830.2 823.5L830.8 823.4L831.2 823.3L831.8 823.3L832.2 823.4L832.8 823.7L833.2 824.0L834.2 824.8L835.2 826.1L836.0 827.3L837.0 829.3L838.0 831.6L839.0 834.4L839.8 836.8L840.8 840.3L841.5 843.3L842.5 847.6L843.2 851.3L845.0 860.9L846.5 870.7L848.0 881.9L849.5 895.0L850.8 907.4L851.8 918.6L853.0 934.3L854.0 948.4L855.0 964.3L856.0 982.1L857.0 1002.1L857.8 1019.2L859.0 1053.9L860.0 1088.2L860.8 1119.1L861.2 1142.7L862.8 1222.4L863.0 1232.8L863.2 1239.7L863.5 1242.2L863.8 1239.7L864.0 1232.8L864.2 1222.5L865.8 1143.6L866.2 1120.3L867.0 1089.8L868.0 1056.0L869.2 1021.8L870.0 1005.0L871.0 985.2L872.0 967.5L873.0 951.8L874.0 937.6L875.2 921.8L876.2 910.4L877.5 897.5L879.0 883.8L880.8 869.6L882.5 857.3L884.5 844.9L886.5 834.2L888.5 824.9L890.5 816.9L891.5 813.4L892.8 809.4L893.8 806.4L895.0 803.2L896.2 800.4L897.2 798.4L898.5 796.4L899.5 795.1L900.5 794.1L901.5 793.4L902.5 793.0L903.0 792.9L903.5 792.9L904.0 793.1L904.5 793.2L905.0 793.5L905.5 793.9L906.5 795.0L907.5 796.5L908.5 798.5L909.2 800.3L910.5 804.0L911.5 807.7L912.5 812.0L913.5 816.9L914.5 822.7L915.5 829.2L916.5 836.7L917.5 845.1L918.5 854.7L919.2 862.7L920.2 874.7L921.0 884.7L922.5 907.8L923.8 931.2L924.8 953.2L925.8 979.8L926.8 1012.3L927.5 1042.0L928.2 1078.4L928.8 1107.7L929.2 1142.2L930.2 1223.6L930.5 1239.6L930.8 1247.3L930.8 1247.5L931.0 1243.9L931.2 1230.7L932.5 1131.6L933.2 1084.4L934.2 1036.1L935.2 998.7L936.0 975.5L936.8 955.3L938.2 922.1L939.2 903.3L940.2 886.6L941.2 871.8L942.5 855.2L943.8 840.6L945.2 825.0L946.8 811.4L948.5 797.5L950.2 785.3L952.0 774.8L954.0 764.4L955.0 759.7L956.0 755.5L957.0 751.6L958.0 748.1L959.0 744.9L960.0 742.0L961.0 739.5L962.0 737.2L963.0 735.3L964.2 733.2L965.5 731.7L966.5 730.8L967.5 730.2L968.5 729.9L969.0 729.9L969.8 730.0L970.8 730.4L971.8 731.1L972.8 732.2L973.8 733.5L974.5 734.8L975.5 736.7L976.2 738.4L977.2 741.0L978.0 743.3L979.5 748.3L981.0 754.4L982.5 761.6L984.0 769.9L985.2 778.0L986.5 787.0L987.8 797.4L989.0 809.1L990.0 819.7L991.2 834.7L992.2 848.4L993.2 863.9L994.0 877.1L994.8 891.7L995.5 908.2L996.8 941.3L997.8 975.1L998.8 1019.0L999.5 1062.9L1000.0 1100.8L1000.5 1149.3L1001.2 1245.3L1001.5 1268.3L1001.6 1270.7L1001.8 1265.4L1002.0 1238.7L1002.8 1141.8L1003.2 1093.3L1003.8 1055.1L1004.2 1023.8L1005.2 974.9L1005.8 955.0L1006.5 929.0L1007.2 906.7L1008.2 881.1L1009.2 859.1L1010.2 839.8L1011.2 822.6L1012.5 803.5L1014.0 783.5L1015.5 766.0L1017.0 750.5L1018.8 734.6L1020.5 720.6L1022.5 706.7L1024.5 694.6L1026.5 684.2L1027.5 679.6L1028.8 674.3L1029.8 670.4L1031.0 666.0L1032.0 662.9L1033.2 659.3L1034.2 656.8L1035.5 654.1L1036.5 652.3L1037.8 650.4L1039.0 648.9L1040.2 647.8L1041.0 647.4L1041.5 647.2L1042.5 647.0L1043.2 647.0L1043.8 647.2L1044.8 647.6L1045.5 648.1L1046.0 648.6L1047.2 650.1L1048.5 652.1L1049.5 654.0L1050.8 657.0L1051.8 659.8L1052.8 663.0L1053.8 666.7L1054.8 670.8L1055.8 675.4L1056.8 680.5L1057.8 686.2L1059.5 697.6L1061.2 711.4L1062.8 725.4L1064.2 741.9L1065.5 758.1L1066.8 777.0L1068.0 799.5L1069.0 820.9L1070.0 846.5L1070.8 869.5L1071.5 897.0L1072.0 918.8L1072.5 944.5L1073.0 975.6L1073.8 1039.3L1074.2 1104.3L1074.5 1151.3L1074.8 1219.4L1075.0 1344.0L1075.2 1669.1L1075.2 1543.1L1075.5 1282.0L1075.8 1188.7L1076.2 1089.1L1076.5 1056.2L1077.0 1006.0L1077.5 968.1L1078.2 924.1L1079.2 879.2L1080.2 843.1L1081.5 806.2L1082.8 775.6L1084.2 744.6L1086.0 714.0L1087.0 698.6L1088.2 680.8L1089.5 664.6L1090.8 649.7L1092.0 635.8L1093.5 620.5L1095.0 606.3L1096.8 591.1L1098.5 577.1L1100.2 564.1L1102.0 552.1L1103.8 541.0L1105.8 529.2L1107.8 518.3L1109.8 508.3L1112.0 497.9L1114.0 489.5L1116.2 480.8L1118.5 472.8L1120.8 465.6L1123.0 459.0L1125.5 452.5L1128.0 446.8L1130.5 441.7L1133.0 437.3L1134.2 435.3L1135.5 433.5L1136.8 431.8L1138.0 430.2L1139.2 428.8L1140.8 427.3L1142.0 426.2L1143.5 425.0L1144.8 424.2L1146.2 423.3L1147.8 422.6L1149.2 422.0L1150.8 421.6L1152.2 421.3L1153.8 421.2L1155.2 421.2L1156.8 421.2L1158.5 421.5L1160.0 421.8L1161.5 422.3L1163.0 422.9L1164.5 423.6L1166.0 424.4L1167.5 425.4L1169.0 426.5L1170.5 427.7L1172.0 429.0L1173.5 430.4L1175.0 432.0L1176.8 434.0L1178.5 436.1L1180.0 438.0L1183.0 442.3L1186.0 447.0L1189.0 452.2L1192.2 458.4L1195.2 464.7L1198.2 471.4L1201.2 478.6L1204.2 486.4L1207.0 494.0L1210.0 502.9L1212.8 511.5L1215.5 520.7L1218.2 530.5L1221.0 540.8L1223.5 550.8L1226.0 561.3L1228.5 572.5L1231.0 584.4L1233.2 595.7L1235.5 607.7L1237.8 620.4L1239.8 632.4L1241.8 645.2L1243.5 657.0L1245.0 667.8L1246.5 679.1L1248.0 691.0L1250.8 714.9L1252.2 729.2L1253.5 741.9L1255.8 767.1L1257.0 782.6L1258.0 796.0L1260.0 825.8L1261.8 856.4L1263.2 887.1L1264.5 917.0L1265.5 945.4L1266.5 979.4L1267.5 1021.8L1268.2 1061.3L1270.0 1178.4L1270.2 1190.6L1270.5 1196.9L1270.6 1197.5L1270.8 1196.2L1271.0 1188.9L1271.2 1176.8L1272.5 1099.5L1273.5 1049.2L1274.5 1010.4L1275.5 979.4L1276.8 948.5L1277.5 933.3L1278.5 915.3L1279.5 899.3L1280.5 885.2L1281.5 872.6L1282.5 861.2L1283.8 848.5L1285.0 837.3L1286.5 825.3L1288.0 814.8L1289.5 805.4L1291.2 795.8L1293.0 787.3L1294.8 779.9L1296.8 772.4L1298.8 766.0L1300.8 760.3L1301.8 757.8L1303.0 754.9L1304.0 752.7L1305.2 750.2L1306.5 748.0L1307.8 745.9L1309.0 744.1L1310.2 742.4L1311.5 740.9L1313.0 739.3L1314.8 737.7L1316.5 736.3L1318.2 735.2L1320.2 734.2L1322.2 733.5L1324.2 733.0L1326.5 732.6L1328.8 732.6L1330.8 732.7L1332.8 733.0L1334.8 733.6L1337.0 734.4L1339.2 735.5L1341.5 736.7L1343.8 738.2L1346.0 739.9L1348.2 741.7L1350.5 743.8L1352.8 746.0L1355.0 748.3L1357.2 750.8L1359.8 753.8L1362.2 756.9L1365.0 760.5L1370.2 767.8L1375.8 776.0L1384.0 788.8L1391.2 800.4L1397.5 810.9L1402.8 820.3L1405.2 825.0L1407.5 829.4L1412.5 839.6L1418.0 851.5L1424.5 866.3L1435.2 891.2L1438.8 899.6L1441.8 906.9L1445.8 917.2L1449.8 928.1L1454.0 940.2L1457.5 950.8L1460.8 961.5L1464.0 973.0L1467.0 984.4L1470.0 996.7"/>
<path id="c-red" stroke="#fe0000" stroke-width="7.0" d="M250.0 1107.7L252.5 1097.6L255.2 1087.4L258.0 1078.1L260.8 1069.6L263.5 1062.0L266.5 1054.5L268.0 1051.0L269.8 1047.2L273.0 1040.6L274.8 1037.4L276.5 1034.3L278.2 1031.5L280.2 1028.4L282.0 1025.8L284.0 1023.1L286.0 1020.6L288.0 1018.2L290.0 1016.0L292.0 1014.0L294.0 1012.2L296.0 1010.5L298.0 1009.0L300.0 1007.7L302.0 1006.5L303.8 1005.7L305.8 1004.9L307.5 1004.4L309.2 1004.0L311.0 1003.8L313.0 1003.7L315.5 1003.8L317.8 1004.1L319.8 1004.5L321.5 1005.0L323.2 1005.7L325.0 1006.6L326.8 1007.7L328.2 1008.7L329.8 1010.0L331.2 1011.5L332.8 1013.1L334.2 1015.0L335.5 1016.7L337.0 1019.0L338.2 1021.2L339.5 1023.5L340.8 1026.1L342.0 1028.8L343.2 1031.8L344.5 1035.1L345.8 1038.6L348.0 1045.7L350.2 1053.9L352.2 1062.2L354.0 1070.4L355.8 1079.6L357.2 1088.3L358.8 1098.0L360.2 1108.7L361.5 1118.6L362.8 1129.6L364.0 1141.6L365.2 1155.1L366.2 1167.0L367.2 1180.2L368.2 1194.9L369.2 1211.4L370.0 1225.2L370.8 1240.6L371.5 1257.7L372.8 1292.0L373.8 1326.7L374.8 1371.8L375.5 1417.3L376.0 1457.0L376.5 1509.4L377.5 1664.8L377.6 1669.1L377.8 1659.7L378.2 1573.6L378.8 1501.8L379.2 1450.2L379.8 1410.6L380.5 1364.8L381.2 1329.1L382.0 1299.8L383.0 1267.4L384.2 1234.3L385.8 1201.6L387.5 1170.1L389.2 1143.5L390.2 1130.0L391.5 1114.5L393.8 1089.5L395.0 1077.1L396.2 1065.4L397.5 1054.5L399.0 1042.2L400.8 1028.8L402.8 1014.7L404.8 1001.6L407.0 987.9L409.2 975.2L411.5 963.3L414.0 951.1L416.5 939.7L419.0 929.0L421.8 918.1L424.5 908.0L427.2 898.6L430.0 889.9L433.0 881.1L435.8 873.8L438.8 866.5L441.5 860.5L444.2 855.2L445.8 852.6L447.0 850.5L448.5 848.2L449.8 846.5L451.2 844.6L452.5 843.2L453.8 841.9L455.0 840.8L456.2 839.8L457.5 839.1L458.8 838.4L460.0 838.0L461.2 837.7L462.8 837.6L464.2 837.7L465.5 837.9L467.0 838.4L468.2 838.9L469.5 839.6L470.8 840.5L472.0 841.6L473.2 842.9L474.5 844.3L475.8 846.0L477.0 847.8L478.2 849.9L479.5 852.3L480.5 854.3L482.0 857.7L483.2 860.8L484.5 864.2L485.8 867.9L487.0 872.0L488.2 876.4L490.5 885.3L492.8 895.6L494.8 906.1L496.8 918.1L498.8 931.9L500.5 945.8L502.2 961.6L503.8 977.1L505.2 994.8L506.5 1011.7L507.8 1031.0L509.0 1053.4L510.0 1074.4L511.0 1098.8L511.8 1120.3L512.5 1145.4L513.0 1164.8L514.0 1213.1L514.5 1244.6L515.0 1284.2L515.5 1337.6L516.0 1419.0L516.2 1483.2L516.7 1669.1L517.0 1537.5L517.2 1454.1L517.5 1398.4L518.0 1324.4L518.5 1274.1L519.0 1236.1L519.5 1205.4L520.5 1157.8L521.0 1138.5L521.8 1113.4L522.5 1091.7L523.2 1072.7L524.2 1050.5L525.5 1026.6L526.8 1005.9L528.0 987.7L529.5 968.5L531.0 951.5L532.8 934.0L534.5 918.5L536.5 902.8L538.5 889.0L540.5 876.7L542.8 864.4L545.0 853.6L546.2 848.2L547.5 843.1L548.8 838.5L550.0 834.2L551.2 830.2L552.5 826.5L553.8 823.2L555.2 819.5L556.5 816.8L558.0 814.0L559.2 811.9L560.8 809.8L562.2 808.1L563.5 807.0L564.2 806.5L565.0 806.1L566.2 805.6L567.0 805.5L567.8 805.4L569.0 805.6L570.2 806.1L571.5 806.9L572.8 808.0L574.0 809.5L575.2 811.4L576.5 813.7L577.8 816.3L578.8 818.7L580.0 822.2L581.0 825.2L582.2 829.6L583.2 833.4L584.2 837.5L585.2 842.1L586.2 847.1L587.2 852.5L588.2 858.3L589.2 864.7L591.0 877.2L592.8 891.7L594.2 906.0L595.8 922.4L597.0 938.0L598.2 955.7L599.5 976.0L600.8 999.4L601.8 1020.8L603.0 1053.9L604.2 1095.7L605.0 1126.5L605.5 1150.1L607.2 1242.9L607.5 1251.0L607.8 1254.6L607.8 1254.7L608.0 1253.0L608.2 1246.6L608.5 1236.5L609.8 1168.0L610.5 1130.7L611.5 1089.6L612.5 1056.2L613.8 1022.2L614.8 1000.3L616.2 971.8L617.8 947.7L618.8 933.6L619.8 920.8L620.8 909.1L621.8 898.4L622.8 888.6L624.0 877.4L625.2 867.3L626.5 858.0L627.8 849.6L629.2 840.4L630.8 832.2L632.2 824.9L633.8 818.3L635.2 812.5L636.8 807.3L638.5 802.1L639.5 799.5L640.8 796.6L641.8 794.5L643.0 792.3L644.0 790.8L645.2 789.3L646.5 788.1L647.8 787.3L648.5 786.9L649.0 786.8L649.8 786.7L650.2 786.7L651.0 786.8L651.5 786.9L652.5 787.4L653.8 788.4L654.8 789.4L656.0 791.0L657.0 792.6L658.2 794.9L659.2 797.1L660.5 800.2L661.5 803.0L662.5 806.1L663.5 809.5L664.5 813.3L665.5 817.4L666.5 821.9L667.5 826.8L669.2 836.4L671.0 847.5L672.8 860.4L674.2 873.2L675.8 887.8L677.0 901.7L678.2 917.4L679.5 935.3L680.5 951.5L681.5 969.7L682.5 989.9L683.8 1021.8L684.8 1053.0L686.0 1101.6L687.8 1183.1L688.0 1191.7L688.2 1197.3L688.5 1199.3L688.8 1197.3L689.0 1191.6L689.2 1182.9L691.0 1098.8L692.2 1048.0L693.2 1015.3L694.5 981.4L695.5 959.6L696.5 940.0L697.5 922.5L698.8 903.0L699.8 889.1L701.0 873.5L702.2 859.7L703.8 845.0L705.2 832.1L706.8 820.8L708.5 809.4L710.2 799.5L712.0 791.2L713.0 787.1L714.0 783.3L714.8 780.8L715.8 777.8L716.8 775.1L717.8 772.8L718.8 770.9L719.8 769.3L720.8 768.0L721.8 767.1L722.8 766.5L723.8 766.2L724.8 766.2L725.8 766.5L726.2 766.8L727.0 767.4L728.0 768.4L729.0 769.8L730.0 771.4L731.0 773.4L732.0 775.7L733.0 778.4L734.0 781.4L735.2 785.7L736.5 790.6L737.8 796.1L739.0 802.3L740.2 809.3L741.2 815.5L742.2 822.3L743.2 829.7L744.2 837.9L745.2 846.9L747.0 864.8L748.0 876.6L748.8 886.3L750.2 908.4L751.5 930.0L752.8 955.1L753.8 980.0L754.5 1002.0L755.5 1037.0L756.2 1068.8L758.2 1172.4L758.5 1180.4L758.8 1184.0L758.8 1184.1L759.0 1182.4L759.2 1176.0L759.5 1165.6L761.0 1082.4L762.0 1035.4L763.0 997.6L764.0 966.4L764.8 946.4L765.2 934.7L766.0 918.5L767.0 899.1L768.0 881.8L769.0 866.3L770.0 852.4L771.0 839.8L772.2 825.8L773.5 813.3L774.8 802.2L776.0 792.4L777.5 782.1L779.0 773.1L780.5 765.5L782.0 759.0L783.5 753.6L784.2 751.3L785.2 748.6L786.0 746.9L786.8 745.3L787.5 744.0L788.5 742.6L789.2 741.8L790.2 741.1L791.0 740.7L791.5 740.6L792.0 740.6L792.5 740.7L793.0 740.8L793.8 741.2L794.5 741.8L795.5 742.8L796.2 743.8L797.0 745.1L797.8 746.5L798.5 748.1L800.0 751.9L801.5 756.5L803.0 762.0L804.5 768.4L806.0 775.7L807.2 782.6L808.5 790.4L809.8 799.1L811.0 808.7L812.2 819.5L813.2 829.1L814.2 839.7L815.2 851.4L816.2 864.3L817.2 878.7L818.0 890.7L819.5 918.1L820.5 939.5L821.8 973.1L822.8 1006.5L823.5 1036.8L824.2 1072.7L825.8 1153.2L826.0 1161.5L826.2 1165.2L826.3 1165.4L826.5 1163.6L826.8 1157.0L827.0 1146.4L828.8 1050.4L829.5 1016.6L830.2 987.9L831.0 963.3L832.0 935.3L833.0 912.1L834.0 891.8L835.5 865.4L837.0 842.9L838.5 823.6L840.2 804.0L842.2 784.9L844.2 768.5L845.2 761.2L846.5 752.8L847.5 746.7L848.8 739.5L850.8 729.4L852.8 720.8L853.8 717.0L854.8 713.5L855.8 710.4L856.8 707.5L857.8 705.0L858.8 702.8L859.8 700.8L860.8 699.2L861.8 697.9L862.8 696.9L863.8 696.3L864.2 696.1L864.8 696.0L865.2 695.9L865.8 696.0L866.5 696.3L867.0 696.6L867.5 697.0L868.2 697.8L869.2 699.4L870.0 700.9L870.8 702.7L871.5 704.8L872.2 707.3L873.0 710.1L873.8 713.4L874.5 717.1L875.2 721.2L876.0 725.9L877.2 734.8L878.5 745.5L879.5 755.5L880.5 767.0L881.5 780.3L882.5 795.5L883.5 813.1L884.2 828.0L885.0 845.7L886.2 881.9L887.2 919.0L888.2 966.4L889.8 1051.8L890.0 1061.0L890.2 1065.2L890.3 1065.3L890.5 1063.4L890.8 1056.0L891.0 1044.4L892.5 956.9L893.2 920.0L894.0 888.6L894.8 861.3L895.8 829.8L896.5 809.3L897.5 785.3L898.8 758.8L900.0 735.3L901.5 710.5L903.0 688.4L904.8 665.6L906.5 645.2L908.5 624.3L910.8 603.2L913.2 582.4L915.8 563.7L918.5 545.3L920.0 536.0L921.5 527.3L923.0 519.1L924.5 511.3L926.0 503.9L927.8 495.8L929.2 489.3L931.0 482.1L932.5 476.3L934.2 470.0L936.0 464.1L937.8 458.6L939.5 453.5L941.2 448.8L943.0 444.5L944.8 440.6L946.5 437.0L948.5 433.4L950.2 430.6L952.2 427.8L954.0 425.8L955.8 424.2L957.5 422.9L958.5 422.3L959.2 422.0L960.2 421.6L961.0 421.4L962.0 421.3L963.0 421.3L964.0 421.3L964.8 421.5L966.2 421.9L968.0 422.8L969.5 423.8L971.2 425.4L972.8 427.0L974.5 429.3L976.0 431.6L977.5 434.2L979.0 437.1L980.5 440.3L982.0 443.9L983.5 447.8L985.0 452.0L986.5 456.6L988.0 461.6L989.5 466.9L991.0 472.7L992.5 478.8L993.8 484.3L996.5 497.4L999.2 512.1L1001.8 527.0L1004.2 543.5L1006.8 561.9L1009.0 580.3L1011.0 598.3L1013.0 618.2L1014.8 637.3L1016.5 658.5L1018.0 678.5L1019.5 700.8L1021.0 725.6L1022.2 748.6L1023.5 774.2L1024.5 796.7L1025.0 808.6L1026.0 836.5L1026.8 860.1L1027.8 895.7L1030.0 985.8L1030.5 1000.6L1030.8 1004.9L1031.0 1006.4L1031.2 1004.9L1031.5 1000.5L1031.8 993.7L1032.2 975.4L1034.0 903.2L1035.2 861.2L1036.5 827.5L1037.0 815.8L1037.8 801.2L1038.8 783.2L1040.0 763.3L1041.2 746.1L1042.5 731.1L1043.8 718.1L1045.2 704.6L1046.8 693.2L1048.2 683.4L1049.0 679.1L1050.0 674.0L1050.8 670.5L1051.8 666.3L1052.5 663.4L1053.5 660.1L1054.5 657.2L1055.5 654.7L1056.5 652.6L1057.5 650.8L1058.5 649.4L1059.0 648.9L1059.8 648.2L1060.8 647.5L1061.2 647.3L1062.0 647.1L1063.0 647.0L1063.5 647.1L1064.2 647.3L1065.2 647.8L1066.5 648.8L1067.8 650.2L1069.0 651.9L1070.2 653.9L1071.5 656.4L1072.8 659.2L1073.8 661.6L1075.0 665.1L1076.2 668.9L1077.5 673.1L1078.5 676.7L1079.8 681.6L1080.8 685.9L1083.0 696.4L1084.5 704.3L1085.8 711.5L1087.0 719.2L1088.2 727.5L1089.5 736.5L1090.8 746.2L1092.0 756.8L1093.0 765.9L1095.0 786.3L1096.0 797.6L1097.0 810.0L1098.8 834.3L1100.2 858.6L1101.8 887.0L1103.0 914.5L1104.0 941.2L1104.8 964.4L1105.8 1001.1L1106.5 1034.1L1108.5 1141.5L1108.8 1150.5L1109.0 1155.1L1109.1 1155.5L1109.2 1154.6L1109.5 1149.1L1109.8 1139.5L1111.5 1046.8L1112.0 1024.1L1112.8 994.5L1113.5 969.4L1114.2 947.7L1115.0 928.7L1116.0 907.7L1117.2 884.8L1118.5 865.1L1119.8 848.0L1121.2 830.3L1122.8 815.1L1124.5 799.9L1126.2 787.0L1127.2 780.5L1128.2 774.5L1129.2 769.1L1130.5 762.9L1131.5 758.4L1132.8 753.4L1134.0 749.0L1135.2 745.1L1136.5 741.6L1138.0 738.1L1139.2 735.7L1140.8 733.3L1142.0 731.7L1142.8 730.9L1143.5 730.2L1144.2 729.7L1145.0 729.2L1145.8 728.9L1146.5 728.7L1147.2 728.6L1148.0 728.7L1148.8 728.8L1149.5 729.0L1150.2 729.3L1151.0 729.8L1151.8 730.3L1152.5 731.0L1154.0 732.6L1155.0 733.9L1155.8 735.0L1157.2 737.5L1158.8 740.4L1160.2 743.7L1161.8 747.5L1163.2 751.7L1164.8 756.3L1166.2 761.4L1167.8 767.0L1169.2 773.1L1170.5 778.6L1172.0 785.7L1173.2 792.0L1175.2 803.1L1177.2 815.5L1179.0 827.5L1180.8 840.8L1182.5 855.5L1184.0 869.4L1185.5 884.8L1187.0 901.9L1188.2 917.9L1189.5 935.5L1190.8 955.5L1191.8 973.4L1192.8 993.5L1193.8 1016.6L1194.5 1036.3L1195.2 1058.7L1196.0 1084.8L1196.5 1104.8L1197.5 1154.5L1198.2 1205.6L1198.8 1251.8L1199.0 1281.3L1199.5 1364.4L1199.8 1431.0L1200.2 1669.1L1200.5 1490.1L1200.8 1401.9L1201.2 1303.8L1201.8 1244.2L1202.5 1183.8L1203.0 1153.8L1203.5 1128.8L1204.0 1107.4L1204.8 1080.2L1205.5 1057.3L1206.2 1037.6L1207.2 1015.0L1208.2 995.6L1209.5 974.7L1210.8 956.7L1212.2 938.1L1213.8 922.0L1215.2 908.0L1217.0 893.7L1218.8 881.2L1220.8 868.8L1222.8 858.0L1223.8 853.2L1225.0 847.6L1226.0 843.4L1227.2 838.7L1228.5 834.3L1229.8 830.3L1231.0 826.6L1232.2 823.3L1233.5 820.2L1235.0 817.0L1236.8 813.6L1238.8 810.4L1240.5 808.1L1241.5 806.9L1242.5 805.9L1243.5 805.0L1244.5 804.2L1245.5 803.6L1246.5 803.0L1247.5 802.6L1248.5 802.3L1249.5 802.0L1250.5 801.9L1251.5 801.9L1252.5 801.9L1253.5 802.1L1254.8 802.4L1255.8 802.7L1256.8 803.2L1257.8 803.8L1258.8 804.5L1260.8 806.2L1261.8 807.2L1263.0 808.5L1265.0 811.1L1267.2 814.4L1269.5 818.2L1271.8 822.4L1274.0 827.0L1276.2 832.1L1278.5 837.7L1280.8 843.6L1283.0 850.0L1285.2 856.8L1287.5 864.1L1289.8 871.8L1292.0 880.0L1294.0 887.8L1296.0 895.9L1298.0 904.4L1300.0 913.4L1302.0 922.9L1305.2 939.5L1308.2 956.3L1311.2 974.7L1314.0 993.2L1316.5 1011.9L1319.0 1032.5L1321.2 1053.2L1323.2 1073.7L1325.0 1093.7L1326.5 1112.6L1328.0 1133.4L1329.8 1160.3L1333.0 1213.4L1334.2 1240.4L1336.2 1286.3L1337.2 1306.6L1338.0 1317.5L1338.2 1319.9L1338.5 1321.5L1338.8 1322.4L1338.9 1322.5L1339.0 1322.5L1339.2 1321.8L1339.5 1320.3L1339.8 1318.1L1340.2 1312.0L1341.2 1294.4L1343.5 1247.7L1344.8 1223.6L1348.5 1173.5L1350.2 1151.8L1351.8 1135.4L1353.5 1118.5L1355.5 1101.8L1356.5 1094.4L1357.8 1085.8L1359.0 1077.9L1360.2 1070.7L1361.5 1064.1L1363.0 1056.8L1364.5 1050.3L1366.0 1044.3L1367.5 1038.8L1369.0 1033.9L1370.5 1029.4L1372.2 1024.7L1374.0 1020.5L1375.8 1016.7L1377.5 1013.4L1379.5 1010.1L1380.8 1008.3L1382.0 1006.6L1383.2 1005.1L1384.8 1003.5L1386.0 1002.3L1387.5 1001.0L1388.8 1000.1L1390.2 999.1L1391.8 998.3L1393.2 997.6L1394.8 997.1L1396.5 996.6L1398.2 996.2L1400.0 996.0L1401.8 995.9L1403.8 995.8L1405.0 995.9L1406.5 996.1L1408.0 996.4L1409.5 996.9L1410.8 997.4L1412.2 998.0L1413.8 998.8L1415.2 999.7L1416.8 1000.7L1418.2 1001.9L1419.8 1003.1L1421.2 1004.4L1424.2 1007.4L1427.2 1010.9L1430.5 1015.1L1433.5 1019.4L1436.5 1024.2L1439.5 1029.5L1442.5 1035.3L1445.2 1041.0L1448.0 1047.3L1450.8 1054.1L1453.2 1060.8L1455.8 1068.0L1458.2 1075.8L1460.8 1084.1L1463.2 1093.0L1465.5 1101.6L1467.8 1110.8L1470.0 1120.6"/>
<path id="c-black" stroke="#000" stroke-width="8.3" d="M250.0 1479.4L257.8 1435.3L260.0 1423.1L263.0 1407.5L264.5 1399.2L266.8 1385.8L272.5 1350.1L275.5 1332.1L279.8 1308.0L285.0 1276.8L288.8 1256.0L291.0 1244.1L292.5 1236.8L294.0 1230.1L295.8 1223.0L297.8 1215.6L299.8 1208.6L302.2 1200.5L307.0 1185.6L309.2 1178.8L311.8 1171.5L314.8 1163.2L318.0 1154.6L321.5 1145.5L325.5 1135.4L328.0 1129.2L331.2 1121.6L334.5 1114.2L338.0 1106.6L341.5 1099.2L345.0 1092.1L348.5 1085.2L353.2 1076.3L356.8 1070.0L359.5 1065.3L362.2 1061.0L364.2 1058.2L366.2 1055.6L368.2 1053.3L370.2 1051.3L372.2 1049.7L374.0 1048.5L376.0 1047.5L377.8 1046.9L378.8 1046.7L379.8 1046.6L380.8 1046.6L382.0 1046.6L384.2 1046.9L386.5 1047.5L388.5 1048.3L390.5 1049.5L392.5 1051.0L394.2 1052.6L395.8 1054.2L397.2 1056.1L398.8 1058.2L400.0 1060.2L401.5 1062.9L402.8 1065.4L404.0 1068.1L405.2 1071.1L406.5 1074.4L407.8 1078.0L409.0 1081.9L410.0 1085.3L411.2 1089.9L412.2 1093.9L413.5 1099.2L414.5 1103.8L416.5 1114.2L418.2 1124.5L420.0 1136.3L421.8 1149.9L423.2 1163.2L424.8 1178.4L426.2 1196.0L427.5 1212.9L428.5 1228.4L429.5 1246.0L430.5 1266.3L431.2 1283.7L432.0 1303.8L432.8 1327.2L433.5 1355.2L434.0 1377.3L434.8 1418.0L435.5 1473.3L436.0 1524.3L436.8 1634.6L437.0 1665.6L437.1 1669.1L437.2 1661.4L438.2 1516.1L439.0 1444.4L439.5 1409.2L440.0 1380.1L440.8 1344.2L441.5 1314.7L442.5 1282.0L443.5 1254.7L444.8 1225.8L446.0 1201.0L447.5 1175.3L449.0 1152.8L450.8 1129.9L452.8 1106.8L454.0 1093.8L455.2 1081.7L457.8 1059.8L459.2 1047.9L460.8 1036.7L462.2 1026.3L463.8 1016.5L465.2 1007.3L467.0 997.3L468.8 987.9L470.5 979.1L472.2 970.9L474.0 963.2L475.8 956.0L477.8 948.4L479.5 942.3L481.5 935.8L483.5 929.8L485.5 924.5L487.5 919.7L489.5 915.4L491.5 911.7L493.2 908.8L494.2 907.4L495.2 906.1L497.0 904.3L498.0 903.4L498.8 902.8L499.8 902.2L500.8 901.7L501.8 901.3L502.8 901.1L503.8 901.0L504.8 901.0L505.8 901.2L506.8 901.5L507.8 901.9L508.5 902.4L510.0 903.5L511.5 904.9L513.0 906.7L514.2 908.5L515.8 911.0L517.0 913.4L518.5 916.6L519.8 919.7L521.0 923.1L522.2 926.9L523.5 931.1L524.8 935.7L526.0 940.8L527.0 945.2L528.2 951.2L529.2 956.4L531.2 968.0L533.2 981.7L535.0 995.6L536.8 1011.8L538.2 1027.9L539.8 1046.7L541.0 1065.0L542.2 1086.3L543.2 1106.3L544.2 1129.8L545.0 1150.5L545.8 1174.7L546.5 1203.8L547.0 1227.1L547.5 1254.6L548.0 1288.5L548.5 1332.1L548.8 1359.7L549.2 1435.9L549.5 1493.9L550.0 1669.1L550.5 1492.9L550.8 1434.2L551.2 1356.8L551.8 1304.7L552.5 1248.8L553.0 1220.1L553.5 1195.7L554.0 1174.5L554.8 1147.1L556.0 1109.8L556.8 1090.9L557.8 1068.6L558.8 1049.1L560.0 1027.6L561.2 1008.6L562.5 991.7L563.8 976.4L565.2 960.0L566.8 945.2L568.5 929.8L570.2 916.0L572.0 903.7L573.8 892.6L575.8 881.2L577.8 871.2L580.0 861.3L581.2 856.4L582.5 851.9L583.8 847.8L585.2 843.3L586.5 840.0L588.0 836.5L589.5 833.4L591.0 830.8L592.2 829.0L593.8 827.3L594.5 826.5L595.2 825.9L596.0 825.4L596.8 825.1L597.5 824.8L598.2 824.6L599.0 824.5L599.8 824.6L600.5 824.7L601.2 825.0L602.5 825.7L603.2 826.3L604.0 826.9L605.5 828.6L607.0 830.8L608.2 832.9L609.8 836.0L611.0 839.0L612.2 842.4L613.5 846.2L614.8 850.4L616.0 855.2L617.2 860.4L618.2 865.0L619.5 871.4L620.5 877.0L621.5 883.0L622.5 889.6L624.2 902.5L625.8 915.4L627.2 930.1L628.8 947.3L630.0 963.9L631.2 983.0L632.5 1005.3L633.5 1025.9L634.2 1044.4L635.0 1065.7L635.8 1090.4L636.2 1109.4L637.0 1142.6L637.5 1168.6L639.0 1256.8L639.2 1265.7L639.5 1269.0L639.8 1265.7L640.0 1256.6L641.8 1150.2L642.8 1101.3L644.0 1053.8L644.8 1030.5L645.5 1009.9L646.5 986.4L647.5 965.5L648.5 946.9L649.8 926.2L651.0 907.9L652.2 891.5L653.8 874.0L655.2 858.5L657.0 842.5L658.8 828.4L660.8 814.4L662.8 802.1L664.8 791.6L665.8 786.9L667.0 781.5L668.0 777.6L669.2 773.2L670.5 769.2L671.8 765.8L672.8 763.3L674.0 760.7L675.2 758.4L676.5 756.7L677.8 755.3L679.0 754.3L679.5 754.1L680.2 753.8L680.8 753.7L681.5 753.6L682.2 753.7L682.8 753.9L683.5 754.2L684.0 754.6L685.2 755.6L686.2 756.8L687.5 758.6L688.8 760.9L690.0 763.7L691.0 766.2L692.5 770.6L693.8 774.9L695.2 780.9L696.5 786.5L697.8 792.9L699.0 800.1L700.2 808.2L701.5 817.2L702.8 827.5L703.8 836.7L704.8 846.8L705.8 858.2L706.8 870.8L707.5 881.4L709.0 905.7L710.2 930.3L711.2 954.1L712.2 983.3L713.2 1019.9L714.0 1054.7L714.5 1082.9L715.2 1135.5L716.2 1218.0L716.5 1228.6L716.6 1229.7L716.8 1227.4L717.0 1214.5L718.0 1128.2L718.5 1090.5L719.0 1058.5L719.8 1019.0L720.5 986.7L721.5 951.3L722.5 922.1L723.8 891.8L725.2 861.3L726.8 835.6L728.5 810.1L729.5 797.2L730.5 785.4L732.5 764.4L733.5 755.1L734.8 744.4L736.0 734.6L737.2 725.6L738.5 717.4L739.8 710.0L740.8 704.5L742.0 698.2L743.0 693.6L744.2 688.3L745.2 684.5L746.5 680.2L747.5 677.2L748.8 673.8L749.8 671.4L751.0 668.9L752.2 666.8L753.5 665.2L754.5 664.2L755.0 663.8L755.8 663.3L756.2 663.1L757.0 662.9L757.5 662.9L758.2 663.0L758.8 663.1L759.5 663.4L760.0 663.7L760.8 664.3L762.0 665.6L763.2 667.3L764.5 669.4L765.8 672.0L767.0 675.0L768.0 677.8L769.2 681.8L770.2 685.4L771.5 690.4L772.5 694.9L773.5 699.9L774.5 705.5L776.2 716.7L777.8 728.0L779.0 739.0L780.2 751.8L781.5 766.6L782.8 784.1L783.8 800.4L784.8 819.3L785.5 836.5L786.2 856.6L786.8 872.0L787.5 898.9L788.0 920.1L789.0 972.9L790.2 1053.1L790.5 1062.7L790.7 1065.3L790.8 1065.2L791.0 1059.4L791.2 1046.6L792.8 936.0L793.8 878.0L794.5 843.1L795.2 813.5L796.0 788.1L796.8 765.9L797.8 740.6L798.8 718.8L800.0 694.9L801.5 669.9L803.0 648.0L804.5 628.7L806.2 608.6L808.0 590.8L810.2 570.4L812.5 552.5L815.0 534.9L817.5 519.4L818.8 512.3L820.2 504.3L821.5 498.1L823.0 491.1L824.5 484.5L826.0 478.4L827.5 472.7L829.2 466.5L830.8 461.6L832.5 456.3L834.2 451.5L836.0 447.1L837.8 443.0L839.5 439.4L841.2 436.1L843.0 433.2L844.8 430.6L846.5 428.3L848.2 426.4L850.2 424.6L852.0 423.4L853.0 422.8L854.0 422.3L855.8 421.7L856.8 421.5L857.8 421.4L858.8 421.4L859.8 421.5L861.5 421.9L862.5 422.3L863.5 422.8L865.2 423.8L866.2 424.6L867.2 425.4L869.0 427.2L871.0 429.6L872.8 432.1L874.8 435.4L876.5 438.6L878.2 442.3L880.0 446.3L881.8 450.6L883.5 455.4L885.2 460.6L887.0 466.2L888.8 472.3L890.2 477.9L892.0 484.9L893.5 491.3L895.2 499.2L896.8 506.5L898.2 514.2L899.8 522.4L902.5 538.7L905.2 557.0L907.8 575.6L910.2 596.5L912.5 617.5L914.5 638.4L916.2 658.8L918.0 681.6L919.5 703.5L921.0 728.2L922.5 756.6L923.8 783.6L924.8 808.0L925.8 836.3L926.5 860.7L927.2 888.5L928.0 921.1L928.5 946.2L930.2 1050.7L930.5 1060.7L930.8 1065.2L930.8 1065.3L931.0 1063.2L931.2 1055.3L931.5 1043.0L933.0 953.7L934.0 907.2L934.5 888.0L935.2 863.0L936.0 841.6L936.8 823.0L937.8 802.5L938.8 784.6L939.8 768.9L941.0 752.0L942.2 737.5L943.5 725.0L944.8 714.2L946.2 703.2L947.0 698.3L948.0 692.5L948.8 688.6L949.8 683.9L950.5 680.7L951.5 677.0L952.5 673.8L953.5 671.0L954.5 668.7L955.5 666.7L956.5 665.2L957.0 664.5L957.8 663.7L958.8 663.0L959.2 662.7L960.0 662.4L961.0 662.4L961.5 662.4L962.2 662.6L962.8 662.9L963.5 663.3L964.8 664.4L966.0 665.9L967.2 667.8L968.5 670.0L969.8 672.6L971.0 675.5L972.2 678.8L973.5 682.5L974.8 686.5L976.0 691.0L977.2 695.8L978.5 701.0L979.8 706.7L982.0 718.1L983.5 726.7L984.8 734.4L986.2 744.5L987.5 753.7L988.8 763.7L989.8 772.4L991.0 784.1L992.0 794.3L993.0 805.3L994.0 817.3L995.8 841.1L996.8 856.6L997.5 869.4L999.0 898.7L1000.2 928.0L1001.2 956.5L1002.2 991.2L1003.0 1023.1L1003.8 1062.4L1004.2 1094.3L1005.8 1217.6L1006.0 1228.6L1006.1 1229.7L1006.2 1227.3L1006.5 1214.3L1007.5 1128.8L1008.0 1091.9L1008.5 1060.9L1009.2 1022.8L1010.0 992.0L1011.0 958.6L1012.0 931.4L1013.2 903.9L1014.8 876.8L1016.2 854.6L1017.0 845.0L1018.0 833.3L1019.0 822.9L1020.0 813.7L1021.0 805.4L1022.2 796.2L1023.2 789.7L1024.5 782.5L1025.8 776.4L1027.0 771.1L1028.2 766.6L1029.5 762.8L1030.5 760.3L1031.8 757.7L1032.8 756.1L1034.0 754.5L1034.5 754.0L1035.2 753.5L1035.8 753.2L1036.5 752.9L1037.0 752.8L1037.8 752.7L1038.2 752.8L1039.0 753.0L1040.2 753.7L1041.0 754.2L1041.8 754.9L1043.0 756.4L1044.5 758.5L1045.8 760.7L1047.2 763.7L1048.8 767.2L1050.0 770.5L1051.5 774.8L1052.8 778.8L1054.2 784.1L1055.5 788.8L1056.8 793.9L1058.0 799.5L1059.2 805.4L1060.5 811.8L1061.8 818.6L1063.0 826.0L1065.2 840.7L1067.2 855.6L1069.2 872.6L1070.8 887.0L1072.2 903.2L1073.8 921.5L1075.0 938.8L1076.2 958.4L1077.2 976.1L1078.2 995.9L1079.2 1018.4L1080.0 1038.2L1080.8 1060.8L1081.5 1087.1L1082.0 1107.1L1083.0 1155.2L1084.5 1246.4L1084.8 1258.8L1085.0 1266.8L1085.2 1269.0L1085.2 1268.8L1085.5 1264.3L1085.8 1254.3L1087.2 1163.7L1087.8 1137.3L1088.5 1103.5L1089.0 1084.1L1089.8 1058.7L1090.5 1036.8L1091.2 1017.7L1092.2 996.1L1093.5 972.8L1094.8 952.8L1096.0 935.5L1097.2 920.3L1098.8 904.6L1100.2 891.0L1102.0 877.4L1103.8 865.9L1104.8 860.2L1105.8 855.0L1106.8 850.3L1107.8 846.0L1108.8 842.2L1110.0 838.0L1111.0 835.0L1112.2 831.9L1113.2 829.7L1114.5 827.4L1115.8 825.6L1117.0 824.2L1118.2 823.2L1118.8 822.9L1119.5 822.6L1120.0 822.5L1120.8 822.4L1121.5 822.4L1122.2 822.6L1123.5 823.1L1124.2 823.5L1125.0 824.1L1126.2 825.2L1127.8 827.0L1129.2 829.1L1130.8 831.7L1132.2 834.7L1133.8 838.0L1135.2 841.8L1136.5 845.3L1138.0 849.8L1139.2 853.9L1140.8 859.2L1142.0 864.0L1144.2 873.4L1146.5 884.1L1148.5 894.7L1150.5 906.4L1152.5 919.5L1154.2 932.3L1156.0 946.5L1157.8 962.3L1159.2 977.5L1160.8 994.4L1162.0 1010.2L1163.2 1027.9L1164.5 1047.9L1165.5 1066.1L1166.5 1086.6L1167.5 1110.3L1168.2 1130.8L1169.0 1154.4L1169.8 1182.2L1170.2 1203.9L1170.8 1229.0L1171.2 1259.0L1172.0 1318.5L1172.5 1375.9L1173.0 1466.0L1173.6 1669.1L1174.0 1522.5L1174.2 1454.9L1174.8 1370.1L1175.0 1340.2L1175.5 1293.6L1176.0 1257.8L1176.5 1228.9L1177.5 1183.7L1178.2 1157.0L1179.0 1134.4L1179.8 1114.9L1180.8 1092.4L1181.8 1073.1L1183.0 1052.3L1184.2 1034.4L1185.8 1015.9L1187.2 999.9L1189.0 983.9L1190.8 970.1L1192.5 958.2L1194.5 946.6L1196.5 936.6L1197.5 932.2L1198.8 927.2L1199.8 923.6L1201.0 919.5L1202.0 916.5L1203.2 913.2L1204.5 910.2L1205.8 907.7L1207.0 905.4L1208.2 903.6L1209.5 902.0L1211.0 900.5L1211.8 899.9L1212.8 899.3L1213.8 898.8L1214.8 898.5L1215.8 898.3L1216.8 898.3L1217.8 898.5L1218.8 898.8L1219.8 899.2L1220.8 899.7L1221.5 900.3L1222.5 901.1L1223.5 902.0L1224.5 903.1L1225.5 904.4L1226.5 905.7L1228.5 908.9L1230.5 912.5L1232.5 916.7L1234.8 921.9L1237.0 927.8L1239.0 933.5L1241.2 940.5L1243.2 947.3L1245.2 954.6L1247.2 962.4L1249.2 970.8L1251.2 979.8L1253.2 989.5L1255.0 998.5L1256.8 1008.0L1258.5 1018.2L1260.2 1029.1L1261.8 1039.1L1263.2 1049.7L1264.8 1061.1L1266.2 1073.2L1267.5 1084.0L1268.8 1095.6L1270.0 1108.0L1272.0 1129.9L1273.8 1151.6L1275.5 1176.6L1277.0 1201.4L1278.2 1225.2L1279.5 1252.9L1280.5 1279.0L1281.5 1310.1L1282.2 1338.0L1283.0 1371.7L1283.8 1414.1L1284.2 1449.8L1285.0 1523.1L1285.8 1634.6L1286.0 1665.6L1286.1 1669.1L1286.2 1661.5L1287.0 1549.7L1287.5 1491.9L1288.2 1430.4L1289.0 1386.0L1289.5 1362.2L1290.2 1332.3L1290.8 1315.3L1291.5 1292.9L1292.2 1273.5L1293.0 1256.5L1294.0 1236.6L1295.0 1219.2L1296.0 1203.8L1297.2 1186.9L1298.5 1172.0L1300.0 1156.3L1301.5 1142.6L1303.0 1130.5L1304.8 1118.2L1306.5 1107.4L1308.2 1097.9L1310.2 1088.5L1312.2 1080.4L1313.2 1076.8L1314.5 1072.6L1315.5 1069.6L1316.8 1066.1L1317.8 1063.6L1319.0 1060.7L1320.2 1058.1L1321.5 1055.7L1322.8 1053.7L1324.0 1051.8L1325.5 1049.9L1327.0 1048.3L1328.5 1046.9L1330.2 1045.7L1332.0 1044.7L1333.8 1044.0L1335.8 1043.4L1337.8 1043.1L1340.0 1043.0L1341.8 1043.1L1343.5 1043.4L1345.5 1044.0L1347.5 1044.8L1349.5 1045.9L1351.5 1047.2L1353.8 1048.9L1355.8 1050.7L1358.0 1052.9L1360.0 1055.1L1362.2 1057.8L1364.2 1060.4L1366.5 1063.6L1368.5 1066.6L1370.8 1070.2L1373.0 1074.0L1375.0 1077.6L1377.2 1081.9L1379.2 1086.0L1381.5 1090.7L1383.5 1095.2L1385.5 1099.8L1387.5 1104.7L1391.0 1113.8L1394.2 1122.9L1397.2 1131.9L1400.5 1142.4L1404.0 1154.3L1408.0 1168.4L1414.2 1191.0L1419.8 1211.5L1431.0 1254.0L1435.8 1272.3L1438.8 1284.2L1445.5 1311.7L1458.0 1360.9L1461.0 1373.4L1464.0 1386.6L1467.0 1400.5L1470.0 1415.1"/>
</g>
<g id="ticklabels">
<text x="184.01" y="449.10" font-size="77.20px" textLength="37.99" lengthAdjust="spacingAndGlyphs">0</text>
<text x="118.99" y="626.00" font-size="77.20px" textLength="122.70" lengthAdjust="spacingAndGlyphs">−10</text>
<text x="116.88" y="809.20" font-size="77.20px" textLength="123.12" lengthAdjust="spacingAndGlyphs">−20</text>
<text x="116.88" y="988.20" font-size="77.20px" textLength="123.12" lengthAdjust="spacingAndGlyphs">−30</text>
<text x="117.78" y="1166.60" font-size="77.20px" textLength="123.12" lengthAdjust="spacingAndGlyphs">−40</text>
<text x="118.22" y="1345.30" font-size="77.20px" textLength="121.85" lengthAdjust="spacingAndGlyphs">−50</text>
<text x="195.77" y="1415.10" font-size="77.20px" textLength="126.51" lengthAdjust="spacingAndGlyphs">−90</text>
<text x="375.09" y="1415.10" font-size="77.20px" textLength="122.80" lengthAdjust="spacingAndGlyphs">−60</text>
<text x="569.90" y="1415.10" font-size="77.20px" textLength="122.59" lengthAdjust="spacingAndGlyphs">−30</text>
<text x="843.79" y="1415.10" font-size="77.20px" textLength="38.22" lengthAdjust="spacingAndGlyphs">0</text>
<text x="1023.68" y="1415.10" font-size="77.20px" textLength="77.78" lengthAdjust="spacingAndGlyphs">30</text>
<text x="1224.18" y="1415.10" font-size="77.20px" textLength="77.37" lengthAdjust="spacingAndGlyphs">60</text>
<text x="1434.24" y="1415.10" font-size="77.20px" textLength="76.48" lengthAdjust="spacingAndGlyphs">90</text>
</g>
<text x="653.43" y="1515.00" font-size="76.00px" textLength="352.41" lengthAdjust="spacingAndGlyphs" id="xlabel">Theta [deg]</text>
<text id="ylabel" transform="translate(82.9,1341.3) rotate(-90)" x="-2.19" y="0" font-size="76.00px" textLength="947.03" lengthAdjust="spacingAndGlyphs">Normalized Array Pattern [dB]</text>
</svg>
</body></html>
